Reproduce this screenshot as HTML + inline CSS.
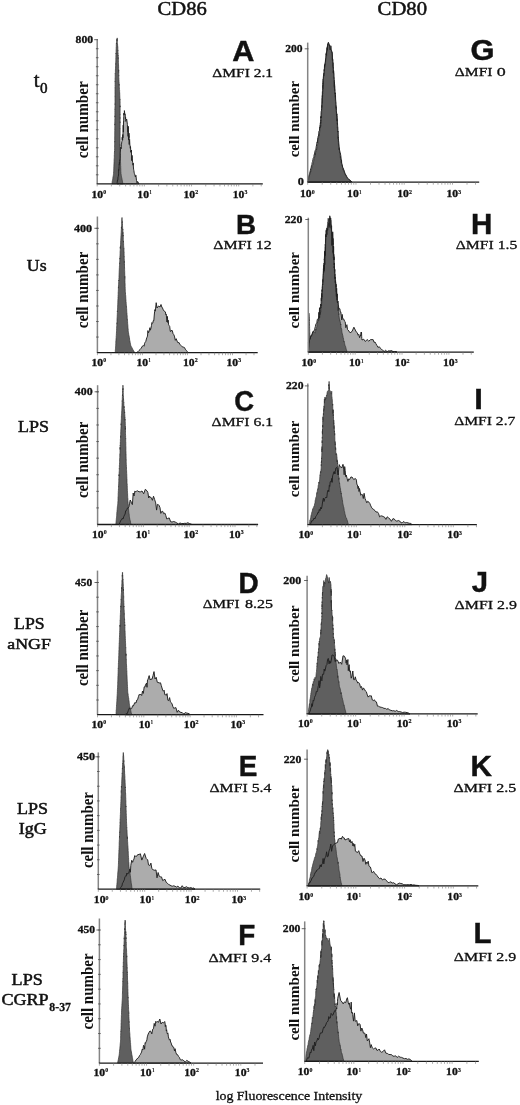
<!DOCTYPE html>
<html><head><meta charset="utf-8"><style>
html,body{margin:0;padding:0;background:#fff;}
svg{display:block;}
text{font-kerning:none;}
.r{stroke:#111;stroke-width:0.3px;}
svg{will-change:transform;}
</style></head><body>
<svg width="520" height="1105" viewBox="0 0 520 1105">
<rect width="520" height="1105" fill="#fff"/>
<text x="157.6" y="14.65" font-family='"Liberation Serif", serif' font-weight="normal" font-size="19.85" textLength="49.26" lengthAdjust="spacingAndGlyphs" fill="#111" style="stroke:#111;stroke-width:0.5px">CD86</text>
<text x="377.6" y="14.65" font-family='"Liberation Serif", serif' font-weight="normal" font-size="19.85" textLength="49.44" lengthAdjust="spacingAndGlyphs" fill="#111" style="stroke:#111;stroke-width:0.5px">CD80</text>
<text x="33.8" y="86.65" font-family='"Liberation Serif", serif' font-weight="normal" font-size="20.07" textLength="5.77" lengthAdjust="spacingAndGlyphs" fill="#111" style="stroke:#111;stroke-width:0.5px">t</text>
<text x="39.97" y="93.15" font-family='"Liberation Serif", serif' font-weight="normal" font-size="14.28" textLength="7.55" lengthAdjust="spacingAndGlyphs" fill="#111" style="stroke:#111;stroke-width:0.5px">0</text>
<text x="26.78" y="270.55" font-family='"Liberation Serif", serif' font-weight="normal" font-size="17.72" textLength="19.82" lengthAdjust="spacingAndGlyphs" fill="#111" style="stroke:#111;stroke-width:0.5px">Us</text>
<text x="18.03" y="431.65" font-family='"Liberation Serif", serif' font-weight="normal" font-size="16.01" textLength="30.93" lengthAdjust="spacingAndGlyphs" fill="#111" style="stroke:#111;stroke-width:0.5px">LPS</text>
<text x="14.14" y="628.55" font-family='"Liberation Serif", serif' font-weight="normal" font-size="16.61" textLength="30.51" lengthAdjust="spacingAndGlyphs" fill="#111" style="stroke:#111;stroke-width:0.5px">LPS</text>
<text x="7.32" y="648.75" font-family='"Liberation Serif", serif' font-weight="normal" font-size="15.1" textLength="43.47" lengthAdjust="spacingAndGlyphs" fill="#111" style="stroke:#111;stroke-width:0.5px">aNGF</text>
<text x="17.03" y="813.75" font-family='"Liberation Serif", serif' font-weight="normal" font-size="15.71" textLength="30.93" lengthAdjust="spacingAndGlyphs" fill="#111" style="stroke:#111;stroke-width:0.5px">LPS</text>
<text x="18.8" y="834.35" font-family='"Liberation Serif", serif' font-weight="normal" font-size="15.71" textLength="28.01" lengthAdjust="spacingAndGlyphs" fill="#111" style="stroke:#111;stroke-width:0.5px">IgG</text>
<text x="11.63" y="984.75" font-family='"Liberation Serif", serif' font-weight="normal" font-size="16.61" textLength="31.14" lengthAdjust="spacingAndGlyphs" fill="#111" style="stroke:#111;stroke-width:0.5px">LPS</text>
<text x="1.41" y="1004.55" font-family='"Liberation Serif", serif' font-weight="normal" font-size="16.01" textLength="47.16" lengthAdjust="spacingAndGlyphs" fill="#111" style="stroke:#111;stroke-width:0.5px">CGRP</text>
<text x="49.36" y="1011.35" font-family='"Liberation Serif", serif' font-weight="bold" font-size="12.78" textLength="21.58" lengthAdjust="spacingAndGlyphs" fill="#111" style="stroke:#111;stroke-width:0.3px">8-37</text>
<text x="215.67" y="1099.55" font-family='"Liberation Serif", serif' font-weight="normal" font-size="12.39" textLength="146.53" lengthAdjust="spacingAndGlyphs" fill="#111" style="stroke:#111;stroke-width:0.3px">log Fluorescence Intensity</text>
<defs><polygon id="l3" points="117.0,183.8 117.2,182.3 117.5,180.0 117.8,180.2 118.0,177.0 118.2,176.7 118.5,175.0 118.6,173.9 118.7,169.5 118.8,170.4 118.9,169.3 119.1,166.6 119.2,164.4 119.3,164.9 119.4,162.3 119.5,163.8 119.6,161.2 119.7,159.9 119.8,160.3 119.9,159.3 120.1,158.2 120.2,153.8 120.3,152.2 120.4,151.1 120.5,148.9 120.8,147.1 121.1,148.9 121.5,144.2 121.8,141.7 122.1,140.7 122.2,137.2 122.4,139.9 122.5,137.2 122.6,140.2 122.8,134.5 122.9,137.9 123.0,134.1 123.2,125.2 123.3,126.9 123.4,132.1 123.5,121.5 123.6,121.4 123.7,121.9 123.7,118.0 123.8,116.3 123.9,113.1 124.0,115.0 124.1,114.3 124.3,114.1 124.4,110.6 124.8,114.3 125.2,114.0 125.4,118.9 125.6,117.4 125.8,121.4 126.0,120.5 126.7,119.1 127.4,124.4 127.6,131.6 127.8,130.7 127.9,131.7 128.1,136.4 128.3,126.3 128.5,140.1 128.7,135.6 128.9,137.7 129.0,133.2 129.2,144.5 129.4,140.7 129.6,139.4 129.9,145.5 130.1,145.5 130.3,148.3 130.5,146.6 130.8,152.3 131.0,151.3 131.2,151.8 131.4,150.0 131.7,160.6 131.9,157.0 132.1,155.4 132.3,158.1 132.6,162.4 132.8,162.4 133.0,165.2 133.2,163.1 133.4,167.0 133.6,169.2 133.9,170.7 134.1,172.1 134.3,173.3 134.9,174.9 135.4,177.0 135.9,175.3 136.5,180.5 137.1,182.9 137.6,181.5 139.0,183.8"/><polygon id="d3" points="111.9,183.8 112.1,182.7 112.2,181.7 112.4,180.7 112.6,179.9 112.8,178.5 112.9,177.4 113.1,176.5 113.3,175.5 113.4,174.7 113.6,173.3 113.6,171.9 113.7,171.2 113.7,170.4 113.8,169.0 113.8,168.1 113.8,167.2 113.9,166.2 113.9,165.1 114.0,164.0 114.0,162.8 114.1,161.8 114.1,160.9 114.1,159.7 114.2,159.1 114.2,158.7 114.3,157.7 114.3,155.6 114.3,155.7 114.4,154.3 114.4,153.0 114.5,151.5 114.5,151.9 114.6,150.5 114.6,148.9 114.6,148.3 114.6,147.3 114.6,145.9 114.6,144.5 114.6,143.5 114.7,141.4 114.7,141.0 114.7,141.6 114.7,140.6 114.7,139.0 114.7,138.0 114.7,136.2 114.7,135.4 114.7,134.3 114.7,133.8 114.7,132.5 114.7,131.5 114.8,130.9 114.8,129.4 114.8,129.6 114.8,127.1 114.8,126.3 114.8,123.9 114.8,124.7 114.8,124.7 114.8,123.1 114.8,121.8 114.8,121.2 114.8,120.5 114.9,118.9 114.9,118.6 114.9,115.9 114.9,116.7 114.9,114.2 114.9,112.9 114.9,112.3 114.9,110.6 114.9,110.3 114.9,109.0 114.9,109.2 114.9,108.4 115.0,106.9 115.0,105.4 115.0,103.8 115.0,104.4 115.0,103.0 115.0,101.5 115.0,101.1 115.0,98.9 115.0,98.9 115.0,96.6 115.0,96.8 115.0,96.0 115.0,95.0 115.0,94.8 115.0,94.5 115.0,91.9 115.0,91.0 115.1,87.8 115.1,88.1 115.1,86.7 115.1,86.3 115.1,85.5 115.1,85.6 115.1,84.4 115.1,81.2 115.1,81.7 115.1,80.7 115.1,79.3 115.1,77.7 115.2,77.5 115.2,76.5 115.2,73.6 115.3,74.0 115.3,73.7 115.4,72.7 115.4,71.9 115.4,70.0 115.5,68.8 115.5,68.8 115.5,67.5 115.6,67.7 115.6,65.6 115.7,63.7 115.7,64.2 115.7,62.4 115.8,62.0 115.8,60.3 115.8,59.7 115.9,58.0 115.9,58.1 115.9,55.2 116.0,54.0 116.0,53.1 116.0,54.0 116.1,53.9 116.1,51.7 116.1,50.0 116.2,49.1 116.2,48.2 116.2,47.0 116.3,46.4 116.3,45.0 116.4,43.2 116.5,44.0 116.7,41.1 116.8,39.8 116.9,39.1 117.0,40.9 117.2,37.9 117.3,42.4 117.5,43.6 117.6,45.0 117.7,47.2 117.7,46.8 117.8,47.9 117.8,48.0 117.9,50.6 117.9,50.1 118.0,53.4 118.0,53.1 118.1,55.8 118.1,55.2 118.2,55.5 118.2,58.6 118.3,57.6 118.3,58.9 118.4,60.3 118.4,62.7 118.5,63.2 118.5,63.8 118.5,63.9 118.5,64.1 118.6,66.9 118.6,68.2 118.6,68.6 118.6,71.7 118.7,69.9 118.7,71.4 118.7,72.6 118.7,72.2 118.8,74.6 118.8,75.9 118.8,75.5 118.8,77.7 118.9,78.3 118.9,79.3 119.0,80.6 119.0,81.3 119.1,82.2 119.1,83.1 119.2,85.3 119.2,84.3 119.3,86.7 119.3,87.7 119.4,87.7 119.4,89.8 119.5,90.0 119.6,90.5 119.6,91.7 119.7,93.8 119.7,93.7 119.8,95.6 119.8,97.0 119.9,98.1 119.9,98.2 120.0,100.0 120.0,99.5 120.1,101.5 120.1,101.9 120.1,103.1 120.1,103.7 120.1,104.9 120.1,107.1 120.1,105.8 120.1,109.6 120.1,109.5 120.1,111.8 120.1,111.8 120.1,112.9 120.1,114.5 120.1,114.2 120.1,115.5 120.1,116.6 120.1,118.3 120.1,117.7 120.1,119.8 120.1,120.2 120.1,122.6 120.1,121.8 120.1,123.9 120.1,124.1 120.1,125.9 120.1,126.7 120.1,127.4 120.1,128.7 120.1,128.5 120.1,130.8 120.1,131.9 120.1,132.1 120.1,133.7 120.1,135.3 120.1,135.9 120.1,136.4 120.1,137.8 120.1,138.2 120.1,140.4 120.1,140.7 120.1,142.2 120.1,143.0 120.1,144.1 120.1,145.3 120.1,144.7 120.1,146.8 120.1,147.5 120.1,148.9 120.1,149.7 120.2,150.0 120.2,152.2 120.2,153.5 120.3,153.7 120.3,155.4 120.3,155.4 120.4,157.4 120.4,158.1 120.4,158.8 120.5,160.5 120.5,161.2 120.5,162.0 120.6,163.6 120.6,164.2 120.6,165.6 120.7,166.2 120.7,166.7 120.7,167.8 120.8,169.3 120.8,170.3 120.8,171.5 120.9,172.1 120.9,173.3 121.1,174.2 121.3,175.7 121.5,176.6 121.7,177.7 121.9,178.5 122.1,179.6 122.3,180.6 122.5,181.6 122.7,182.7 122.9,183.8"/></defs>
<use href="#l3" fill="#acacac"/>
<use href="#d3" fill="#5f5f5f" stroke="#333" stroke-width="0.7"/>
<use href="#l3" fill="none" stroke="#202020" stroke-width="0.95"/>
<line x1="97.2" y1="39.3" x2="97.2" y2="183.8" stroke="#858585" stroke-width="1.5"/>
<line x1="94.2" y1="39.7" x2="98" y2="39.7" stroke="#555" stroke-width="0.9"/>
<line x1="96.7" y1="183.8" x2="262.8" y2="183.8" stroke="#1a1a1a" stroke-width="1.3"/>
<line x1="97.2" y1="183.8" x2="97.2" y2="186.4" stroke="#777" stroke-width="0.6"/>
<line x1="111.4" y1="183.8" x2="111.4" y2="186.4" stroke="#777" stroke-width="0.6"/>
<line x1="119.7" y1="183.8" x2="119.7" y2="186.4" stroke="#777" stroke-width="0.6"/>
<line x1="125.6" y1="183.8" x2="125.6" y2="186.4" stroke="#777" stroke-width="0.6"/>
<line x1="130.17" y1="183.8" x2="130.17" y2="186.4" stroke="#777" stroke-width="0.6"/>
<line x1="133.9" y1="183.8" x2="133.9" y2="186.4" stroke="#777" stroke-width="0.6"/>
<line x1="137.06" y1="183.8" x2="137.06" y2="186.4" stroke="#777" stroke-width="0.6"/>
<line x1="139.8" y1="183.8" x2="139.8" y2="186.4" stroke="#777" stroke-width="0.6"/>
<line x1="142.21" y1="183.8" x2="142.21" y2="186.4" stroke="#777" stroke-width="0.6"/>
<line x1="144.37" y1="183.8" x2="144.37" y2="186.4" stroke="#777" stroke-width="0.6"/>
<line x1="158.57" y1="183.8" x2="158.57" y2="186.4" stroke="#777" stroke-width="0.6"/>
<line x1="166.87" y1="183.8" x2="166.87" y2="186.4" stroke="#777" stroke-width="0.6"/>
<line x1="172.76" y1="183.8" x2="172.76" y2="186.4" stroke="#777" stroke-width="0.6"/>
<line x1="177.33" y1="183.8" x2="177.33" y2="186.4" stroke="#777" stroke-width="0.6"/>
<line x1="181.07" y1="183.8" x2="181.07" y2="186.4" stroke="#777" stroke-width="0.6"/>
<line x1="184.23" y1="183.8" x2="184.23" y2="186.4" stroke="#777" stroke-width="0.6"/>
<line x1="186.96" y1="183.8" x2="186.96" y2="186.4" stroke="#777" stroke-width="0.6"/>
<line x1="189.38" y1="183.8" x2="189.38" y2="186.4" stroke="#777" stroke-width="0.6"/>
<line x1="191.53" y1="183.8" x2="191.53" y2="186.4" stroke="#777" stroke-width="0.6"/>
<line x1="205.73" y1="183.8" x2="205.73" y2="186.4" stroke="#777" stroke-width="0.6"/>
<line x1="214.04" y1="183.8" x2="214.04" y2="186.4" stroke="#777" stroke-width="0.6"/>
<line x1="219.93" y1="183.8" x2="219.93" y2="186.4" stroke="#777" stroke-width="0.6"/>
<line x1="224.5" y1="183.8" x2="224.5" y2="186.4" stroke="#777" stroke-width="0.6"/>
<line x1="228.24" y1="183.8" x2="228.24" y2="186.4" stroke="#777" stroke-width="0.6"/>
<line x1="231.39" y1="183.8" x2="231.39" y2="186.4" stroke="#777" stroke-width="0.6"/>
<line x1="234.13" y1="183.8" x2="234.13" y2="186.4" stroke="#777" stroke-width="0.6"/>
<line x1="236.54" y1="183.8" x2="236.54" y2="186.4" stroke="#777" stroke-width="0.6"/>
<line x1="238.7" y1="183.8" x2="238.7" y2="186.4" stroke="#777" stroke-width="0.6"/>
<line x1="252.9" y1="183.8" x2="252.9" y2="186.4" stroke="#777" stroke-width="0.6"/>
<line x1="261.2" y1="183.8" x2="261.2" y2="186.4" stroke="#777" stroke-width="0.6"/>
<line x1="95.9" y1="174.79" x2="98.5" y2="174.79" stroke="#555" stroke-width="0.9"/>
<line x1="95.9" y1="165.79" x2="98.5" y2="165.79" stroke="#555" stroke-width="0.9"/>
<line x1="95.9" y1="156.78" x2="98.5" y2="156.78" stroke="#555" stroke-width="0.9"/>
<line x1="95.9" y1="147.78" x2="98.5" y2="147.78" stroke="#555" stroke-width="0.9"/>
<line x1="95.9" y1="138.77" x2="98.5" y2="138.77" stroke="#555" stroke-width="0.9"/>
<line x1="95.9" y1="129.76" x2="98.5" y2="129.76" stroke="#555" stroke-width="0.9"/>
<line x1="95.9" y1="120.76" x2="98.5" y2="120.76" stroke="#555" stroke-width="0.9"/>
<line x1="95.9" y1="111.75" x2="98.5" y2="111.75" stroke="#555" stroke-width="0.9"/>
<line x1="95.9" y1="102.74" x2="98.5" y2="102.74" stroke="#555" stroke-width="0.9"/>
<line x1="95.9" y1="93.74" x2="98.5" y2="93.74" stroke="#555" stroke-width="0.9"/>
<line x1="95.9" y1="84.73" x2="98.5" y2="84.73" stroke="#555" stroke-width="0.9"/>
<line x1="95.9" y1="75.73" x2="98.5" y2="75.73" stroke="#555" stroke-width="0.9"/>
<line x1="95.9" y1="66.72" x2="98.5" y2="66.72" stroke="#555" stroke-width="0.9"/>
<line x1="95.9" y1="57.71" x2="98.5" y2="57.71" stroke="#555" stroke-width="0.9"/>
<line x1="95.9" y1="48.71" x2="98.5" y2="48.71" stroke="#555" stroke-width="0.9"/>
<text x="91.44" y="197.72" font-family='"Liberation Serif", serif' font-weight="bold" font-size="11.2" textLength="11.62" lengthAdjust="spacingAndGlyphs" fill="#111" style="stroke:#111;stroke-width:0.35px">10</text>
<text x="103.18" y="194.3" font-family='"Liberation Serif", serif' font-weight="bold" font-size="6.47" textLength="2.95" lengthAdjust="spacingAndGlyphs" fill="#111" style="stroke:#111;stroke-width:0.2px">0</text>
<text x="137.34" y="197.72" font-family='"Liberation Serif", serif' font-weight="bold" font-size="11.2" textLength="11.62" lengthAdjust="spacingAndGlyphs" fill="#111" style="stroke:#111;stroke-width:0.35px">10</text>
<text x="149.45" y="194.3" font-family='"Liberation Serif", serif' font-weight="bold" font-size="6.51" textLength="2.17" lengthAdjust="spacingAndGlyphs" fill="#111" style="stroke:#111;stroke-width:0.2px">1</text>
<text x="183.44" y="197.72" font-family='"Liberation Serif", serif' font-weight="bold" font-size="11.2" textLength="11.62" lengthAdjust="spacingAndGlyphs" fill="#111" style="stroke:#111;stroke-width:0.35px">10</text>
<text x="195.15" y="194.3" font-family='"Liberation Serif", serif' font-weight="bold" font-size="6.49" textLength="3.01" lengthAdjust="spacingAndGlyphs" fill="#111" style="stroke:#111;stroke-width:0.2px">2</text>
<text x="232.74" y="197.72" font-family='"Liberation Serif", serif' font-weight="bold" font-size="11.2" textLength="11.62" lengthAdjust="spacingAndGlyphs" fill="#111" style="stroke:#111;stroke-width:0.35px">10</text>
<text x="244.48" y="194.3" font-family='"Liberation Serif", serif' font-weight="bold" font-size="6.49" textLength="2.92" lengthAdjust="spacingAndGlyphs" fill="#111" style="stroke:#111;stroke-width:0.2px">3</text>
<text x="75.56" y="43.15" font-family='"Liberation Serif", serif' font-weight="bold" font-size="10.38" textLength="17.53" lengthAdjust="spacingAndGlyphs" fill="#111" style="stroke:#111;stroke-width:0.3px">800</text>
<text x="232.26" y="61.27" font-family='"Liberation Sans", sans-serif' font-weight="bold" font-size="29.87" textLength="22.12" lengthAdjust="spacingAndGlyphs" fill="#111" style="stroke:#111;stroke-width:0.45px">A</text>
<text x="212.36" y="77.25" font-family='"Liberation Serif", serif' font-weight="normal" font-size="11.93" textLength="60.72" lengthAdjust="spacingAndGlyphs" fill="#111" style="stroke:#111;stroke-width:0.3px">ΔMFI 2.1</text>
<text transform="translate(87.6 158.22) rotate(-90)" x="0" y="0" font-family='"Liberation Serif", serif' font-weight="bold" font-size="16.14" textLength="76.94" lengthAdjust="spacingAndGlyphs" fill="#111">cell number</text>
<defs><polygon id="l10" points="136.7,352.6 137.8,351.8 139.0,350.5 140.1,349.5 141.2,348.2 142.4,346.1 143.5,345.6 144.1,346.2 144.6,343.3 145.2,342.2 145.8,341.4 146.4,339.0 146.9,337.5 147.5,336.1 147.9,330.6 148.4,332.9 148.8,332.1 149.3,330.8 149.9,327.7 150.4,330.2 151.0,328.0 151.5,325.4 151.9,322.6 152.4,323.4 152.8,322.9 153.3,320.5 153.8,320.8 154.2,316.0 154.6,311.6 154.9,309.6 155.3,311.2 156.2,302.7 157.0,308.0 158.5,306.0 160.0,307.0 161.0,304.5 161.8,307.0 162.5,308.0 163.3,309.9 164.2,311.1 165.0,311.9 165.4,311.9 165.8,314.6 166.2,314.0 166.6,318.0 167.0,322.0 167.4,316.4 167.8,322.5 168.2,320.2 168.6,324.8 169.0,325.4 169.7,326.4 170.3,331.4 171.0,331.3 171.7,330.0 172.4,331.0 173.1,333.8 173.7,334.5 174.4,336.1 175.3,340.3 176.2,338.7 177.1,341.1 178.0,342.9 178.9,342.4 179.8,344.2 181.0,345.5 182.2,346.8 183.3,347.1 184.5,347.6 185.3,349.2 186.2,350.3 187.1,351.3 187.9,352.6"/><polygon id="d10" points="115.2,352.6 115.3,351.5 115.3,350.6 115.4,349.5 115.5,348.6 115.5,347.6 115.6,346.4 115.7,345.5 115.7,344.4 115.8,343.5 115.8,342.2 115.9,340.8 116.0,340.1 116.0,339.1 116.1,338.3 116.2,337.4 116.2,336.4 116.3,335.5 116.4,333.9 116.4,333.2 116.5,332.0 116.5,331.2 116.6,330.3 116.6,328.6 116.7,327.0 116.7,327.0 116.8,325.8 116.8,325.4 116.9,322.9 116.9,323.5 117.0,321.6 117.0,321.0 117.0,320.1 117.1,318.6 117.1,318.7 117.2,316.5 117.2,316.2 117.3,314.7 117.3,313.6 117.4,312.5 117.4,311.1 117.4,311.8 117.5,309.6 117.5,308.7 117.6,307.7 117.6,306.3 117.7,306.0 117.7,304.5 117.8,304.2 117.8,302.5 117.8,302.0 117.9,301.0 117.9,299.7 118.0,298.5 118.0,296.9 118.1,296.7 118.1,295.1 118.2,294.8 118.2,291.8 118.3,291.4 118.3,291.4 118.3,290.8 118.4,289.3 118.4,286.9 118.5,287.7 118.5,285.1 118.6,284.3 118.6,284.0 118.7,283.0 118.7,281.4 118.8,280.1 118.8,280.9 118.9,279.7 118.9,278.4 119.0,277.7 119.0,275.9 119.1,275.0 119.1,274.0 119.2,272.1 119.2,271.9 119.2,271.0 119.3,270.0 119.3,268.9 119.4,267.6 119.4,266.8 119.5,265.5 119.5,264.5 119.6,263.3 119.6,263.8 119.7,261.6 119.7,260.9 119.8,260.3 119.8,258.1 119.9,258.8 119.9,256.5 120.0,256.0 120.0,255.9 120.1,253.7 120.1,252.1 120.2,250.7 120.2,250.7 120.3,249.7 120.3,247.0 120.4,248.5 120.4,246.1 120.5,246.6 120.5,244.5 120.6,244.1 120.6,242.2 120.7,240.6 120.8,240.1 120.8,238.8 120.9,237.9 120.9,236.9 121.0,235.7 121.0,235.1 121.1,234.2 121.1,233.4 121.2,232.4 121.2,232.4 121.3,230.0 121.4,228.5 121.4,227.0 121.5,228.6 121.5,227.1 121.6,225.2 121.7,224.1 121.7,222.2 121.8,221.5 121.8,219.5 121.9,218.3 121.9,218.3 122.0,217.5 122.1,218.9 122.1,219.3 122.2,222.6 122.3,221.5 122.3,221.6 122.4,223.7 122.5,223.8 122.5,225.8 122.6,227.5 122.7,229.2 122.7,229.0 122.8,230.0 122.9,229.5 122.9,233.7 123.0,232.4 123.0,234.6 123.1,236.3 123.2,234.7 123.2,236.2 123.3,239.5 123.3,241.0 123.4,241.7 123.5,241.0 123.5,242.0 123.6,243.4 123.6,245.2 123.7,246.3 123.8,247.4 123.8,248.1 123.9,249.1 123.9,248.6 124.0,250.7 124.0,252.0 124.1,252.0 124.1,253.7 124.1,256.3 124.2,256.0 124.2,258.3 124.2,259.0 124.3,259.0 124.3,259.6 124.3,262.5 124.4,261.4 124.4,264.3 124.4,264.3 124.5,264.1 124.5,267.3 124.5,267.1 124.6,268.0 124.6,269.3 124.6,270.2 124.7,271.4 124.7,271.7 124.7,273.6 124.7,273.5 124.8,275.8 124.8,277.7 124.8,276.4 124.9,279.2 124.9,278.7 124.9,279.5 125.0,281.8 125.0,281.8 125.0,282.6 125.1,283.9 125.1,284.0 125.1,286.6 125.2,287.2 125.2,288.6 125.2,289.0 125.3,290.9 125.3,291.4 125.4,292.8 125.5,292.8 125.5,294.6 125.6,295.0 125.7,295.8 125.8,297.9 125.8,299.2 125.9,299.3 126.0,300.3 126.0,301.4 126.1,302.0 126.2,303.5 126.3,304.5 126.4,305.7 126.4,306.9 126.5,306.6 126.6,308.5 126.7,309.1 126.7,310.0 126.8,312.2 126.9,313.0 127.0,313.5 127.0,314.8 127.1,315.3 127.2,316.1 127.2,317.8 127.3,319.8 127.4,319.4 127.5,321.1 127.6,321.6 127.6,323.1 127.7,323.9 127.8,324.9 127.9,325.9 127.9,327.0 128.0,327.9 128.1,328.8 128.2,329.2 128.2,330.6 128.3,332.0 128.5,332.5 128.7,334.2 128.9,335.2 129.1,336.1 129.3,337.3 129.5,337.9 129.6,340.0 129.8,340.6 130.0,341.3 130.2,342.7 130.4,343.3 130.6,344.6 130.8,345.6 131.3,346.6 131.8,347.4 132.3,348.3 132.7,349.2 133.2,350.1 133.7,351.1 134.2,352.0 135.0,352.6"/></defs>
<use href="#l10" fill="#acacac"/>
<use href="#d10" fill="#5f5f5f" stroke="#333" stroke-width="0.7"/>
<use href="#l10" fill="none" stroke="#202020" stroke-width="0.95"/>
<line x1="97.4" y1="216.5" x2="97.4" y2="352.6" stroke="#858585" stroke-width="1.5"/>
<line x1="94.4" y1="228.3" x2="98.2" y2="228.3" stroke="#555" stroke-width="0.9"/>
<line x1="96.9" y1="352.6" x2="257.7" y2="352.6" stroke="#1a1a1a" stroke-width="1.3"/>
<line x1="97.4" y1="352.6" x2="97.4" y2="355.2" stroke="#777" stroke-width="0.6"/>
<line x1="110.96" y1="352.6" x2="110.96" y2="355.2" stroke="#777" stroke-width="0.6"/>
<line x1="118.89" y1="352.6" x2="118.89" y2="355.2" stroke="#777" stroke-width="0.6"/>
<line x1="124.51" y1="352.6" x2="124.51" y2="355.2" stroke="#777" stroke-width="0.6"/>
<line x1="128.88" y1="352.6" x2="128.88" y2="355.2" stroke="#777" stroke-width="0.6"/>
<line x1="132.44" y1="352.6" x2="132.44" y2="355.2" stroke="#777" stroke-width="0.6"/>
<line x1="135.46" y1="352.6" x2="135.46" y2="355.2" stroke="#777" stroke-width="0.6"/>
<line x1="138.07" y1="352.6" x2="138.07" y2="355.2" stroke="#777" stroke-width="0.6"/>
<line x1="140.37" y1="352.6" x2="140.37" y2="355.2" stroke="#777" stroke-width="0.6"/>
<line x1="142.43" y1="352.6" x2="142.43" y2="355.2" stroke="#777" stroke-width="0.6"/>
<line x1="155.99" y1="352.6" x2="155.99" y2="355.2" stroke="#777" stroke-width="0.6"/>
<line x1="163.92" y1="352.6" x2="163.92" y2="355.2" stroke="#777" stroke-width="0.6"/>
<line x1="169.55" y1="352.6" x2="169.55" y2="355.2" stroke="#777" stroke-width="0.6"/>
<line x1="173.91" y1="352.6" x2="173.91" y2="355.2" stroke="#777" stroke-width="0.6"/>
<line x1="177.48" y1="352.6" x2="177.48" y2="355.2" stroke="#777" stroke-width="0.6"/>
<line x1="180.49" y1="352.6" x2="180.49" y2="355.2" stroke="#777" stroke-width="0.6"/>
<line x1="183.1" y1="352.6" x2="183.1" y2="355.2" stroke="#777" stroke-width="0.6"/>
<line x1="185.41" y1="352.6" x2="185.41" y2="355.2" stroke="#777" stroke-width="0.6"/>
<line x1="187.47" y1="352.6" x2="187.47" y2="355.2" stroke="#777" stroke-width="0.6"/>
<line x1="201.02" y1="352.6" x2="201.02" y2="355.2" stroke="#777" stroke-width="0.6"/>
<line x1="208.95" y1="352.6" x2="208.95" y2="355.2" stroke="#777" stroke-width="0.6"/>
<line x1="214.58" y1="352.6" x2="214.58" y2="355.2" stroke="#777" stroke-width="0.6"/>
<line x1="218.94" y1="352.6" x2="218.94" y2="355.2" stroke="#777" stroke-width="0.6"/>
<line x1="222.51" y1="352.6" x2="222.51" y2="355.2" stroke="#777" stroke-width="0.6"/>
<line x1="225.52" y1="352.6" x2="225.52" y2="355.2" stroke="#777" stroke-width="0.6"/>
<line x1="228.14" y1="352.6" x2="228.14" y2="355.2" stroke="#777" stroke-width="0.6"/>
<line x1="230.44" y1="352.6" x2="230.44" y2="355.2" stroke="#777" stroke-width="0.6"/>
<line x1="232.5" y1="352.6" x2="232.5" y2="355.2" stroke="#777" stroke-width="0.6"/>
<line x1="246.06" y1="352.6" x2="246.06" y2="355.2" stroke="#777" stroke-width="0.6"/>
<line x1="253.99" y1="352.6" x2="253.99" y2="355.2" stroke="#777" stroke-width="0.6"/>
<line x1="96.1" y1="337.06" x2="98.7" y2="337.06" stroke="#555" stroke-width="0.9"/>
<line x1="96.1" y1="321.52" x2="98.7" y2="321.52" stroke="#555" stroke-width="0.9"/>
<line x1="96.1" y1="305.99" x2="98.7" y2="305.99" stroke="#555" stroke-width="0.9"/>
<line x1="96.1" y1="290.45" x2="98.7" y2="290.45" stroke="#555" stroke-width="0.9"/>
<line x1="96.1" y1="274.91" x2="98.7" y2="274.91" stroke="#555" stroke-width="0.9"/>
<line x1="96.1" y1="259.37" x2="98.7" y2="259.37" stroke="#555" stroke-width="0.9"/>
<line x1="96.1" y1="243.84" x2="98.7" y2="243.84" stroke="#555" stroke-width="0.9"/>
<line x1="96.1" y1="228.3" x2="98.7" y2="228.3" stroke="#555" stroke-width="0.9"/>
<text x="91.54" y="365.82" font-family='"Liberation Serif", serif' font-weight="bold" font-size="11.2" textLength="11.62" lengthAdjust="spacingAndGlyphs" fill="#111" style="stroke:#111;stroke-width:0.35px">10</text>
<text x="103.28" y="362.4" font-family='"Liberation Serif", serif' font-weight="bold" font-size="6.47" textLength="2.95" lengthAdjust="spacingAndGlyphs" fill="#111" style="stroke:#111;stroke-width:0.2px">0</text>
<text x="136.44" y="365.82" font-family='"Liberation Serif", serif' font-weight="bold" font-size="11.2" textLength="11.62" lengthAdjust="spacingAndGlyphs" fill="#111" style="stroke:#111;stroke-width:0.35px">10</text>
<text x="148.55" y="362.4" font-family='"Liberation Serif", serif' font-weight="bold" font-size="6.51" textLength="2.17" lengthAdjust="spacingAndGlyphs" fill="#111" style="stroke:#111;stroke-width:0.2px">1</text>
<text x="182.94" y="365.82" font-family='"Liberation Serif", serif' font-weight="bold" font-size="11.2" textLength="11.62" lengthAdjust="spacingAndGlyphs" fill="#111" style="stroke:#111;stroke-width:0.35px">10</text>
<text x="194.65" y="362.4" font-family='"Liberation Serif", serif' font-weight="bold" font-size="6.49" textLength="3.01" lengthAdjust="spacingAndGlyphs" fill="#111" style="stroke:#111;stroke-width:0.2px">2</text>
<text x="226.54" y="365.82" font-family='"Liberation Serif", serif' font-weight="bold" font-size="11.2" textLength="11.62" lengthAdjust="spacingAndGlyphs" fill="#111" style="stroke:#111;stroke-width:0.35px">10</text>
<text x="238.28" y="362.4" font-family='"Liberation Serif", serif' font-weight="bold" font-size="6.49" textLength="2.92" lengthAdjust="spacingAndGlyphs" fill="#111" style="stroke:#111;stroke-width:0.2px">3</text>
<text x="73.98" y="231.75" font-family='"Liberation Serif", serif' font-weight="bold" font-size="10.38" textLength="18.13" lengthAdjust="spacingAndGlyphs" fill="#111" style="stroke:#111;stroke-width:0.3px">400</text>
<text x="236.07" y="234.08" font-family='"Liberation Sans", sans-serif' font-weight="bold" font-size="27.98" textLength="20.07" lengthAdjust="spacingAndGlyphs" fill="#111" style="stroke:#111;stroke-width:0.45px">B</text>
<text x="213.34" y="249.05" font-family='"Liberation Serif", serif' font-weight="normal" font-size="12.23" textLength="58.49" lengthAdjust="spacingAndGlyphs" fill="#111" style="stroke:#111;stroke-width:0.3px">ΔMFI 12</text>
<text transform="translate(87.6 328.21) rotate(-90)" x="0" y="0" font-family='"Liberation Serif", serif' font-weight="bold" font-size="15.71" textLength="76.54" lengthAdjust="spacingAndGlyphs" fill="#111">cell number</text>
<defs><polygon id="l17" points="118.5,524.5 119.2,524.1 120.0,522.3 120.8,520.3 121.5,519.9 122.2,518.4 123.0,519.0 123.8,516.5 124.5,515.0 125.1,514.1 125.7,510.8 126.3,510.6 126.9,509.4 127.5,508.0 128.2,507.9 128.9,506.8 129.5,503.9 130.2,500.0 130.9,501.2 131.7,503.8 132.4,504.6 133.2,493.0 134.0,496.0 134.9,491.0 135.8,491.8 136.6,491.2 137.5,490.8 139.0,491.8 140.5,491.8 142.0,491.0 143.7,493.8 145.3,489.3 147.0,490.8 147.9,492.6 148.7,498.0 149.6,496.1 150.4,497.5 151.3,497.7 152.4,500.3 153.5,496.2 154.6,499.4 155.7,502.9 156.6,510.1 157.4,504.4 158.3,504.6 159.1,505.5 160.0,507.7 160.8,513.4 161.7,511.5 162.7,511.3 163.7,513.7 164.8,513.0 165.8,515.6 166.8,519.0 167.8,518.5 169.2,517.9 170.7,521.8 172.1,522.0 173.7,521.5 175.3,522.1 176.8,522.9 178.4,524.0 180.0,523.0 181.6,523.5 183.1,523.6 184.7,523.3 186.3,523.4 187.8,522.7 189.4,523.5 192.0,524.5"/><polygon id="d17" points="115.8,524.5 115.9,523.5 116.0,522.4 116.1,521.5 116.2,520.4 116.3,519.5 116.4,518.3 116.5,517.6 116.6,516.4 116.7,515.6 116.8,513.9 116.8,512.5 116.9,512.1 117.0,511.4 117.1,510.1 117.2,509.4 117.3,507.9 117.4,506.6 117.5,506.1 117.6,505.4 117.7,504.4 117.8,503.6 117.9,502.0 117.9,501.6 118.0,500.5 118.0,498.9 118.1,497.1 118.1,497.2 118.2,495.8 118.2,494.7 118.2,493.4 118.3,493.2 118.3,491.5 118.4,490.8 118.4,490.1 118.5,488.4 118.5,487.8 118.5,486.4 118.6,486.8 118.6,485.1 118.7,484.1 118.7,483.9 118.8,481.3 118.8,480.7 118.8,479.1 118.9,479.1 118.9,477.8 119.0,476.2 119.0,474.5 119.0,476.1 119.1,474.2 119.1,473.3 119.2,471.6 119.2,471.5 119.3,470.5 119.3,468.1 119.3,468.4 119.4,467.5 119.4,465.1 119.5,464.7 119.5,464.1 119.6,462.4 119.6,461.4 119.6,460.0 119.7,459.0 119.7,457.7 119.8,457.4 119.8,455.8 119.8,454.8 119.9,455.1 119.9,454.1 120.0,452.7 120.0,450.4 120.0,450.3 120.1,447.2 120.1,449.4 120.2,446.8 120.2,445.2 120.2,445.7 120.3,445.2 120.3,442.8 120.4,443.1 120.4,441.5 120.4,439.3 120.5,439.2 120.5,438.3 120.6,436.4 120.6,437.3 120.6,434.7 120.7,434.4 120.7,432.1 120.8,431.3 120.8,430.9 120.8,429.7 120.9,428.7 120.9,427.8 121.0,427.1 121.0,426.5 121.0,423.8 121.1,424.7 121.1,422.6 121.2,421.8 121.2,420.7 121.3,419.7 121.3,419.5 121.4,418.4 121.4,415.7 121.5,415.6 121.5,414.8 121.6,413.5 121.6,412.7 121.7,411.2 121.8,410.8 121.8,409.5 121.9,408.2 121.9,407.8 122.0,405.7 122.0,404.5 122.1,403.8 122.1,403.9 122.2,400.7 122.2,401.4 122.3,400.0 122.3,398.5 122.4,396.4 122.4,395.9 122.5,394.6 122.5,395.9 122.6,393.9 122.6,391.6 122.6,392.1 122.7,391.1 122.7,389.0 122.8,389.5 122.8,388.3 122.9,387.5 122.9,385.2 123.0,386.1 123.0,387.5 123.0,389.5 123.1,388.3 123.2,389.9 123.2,390.7 123.2,392.3 123.3,394.5 123.3,395.1 123.4,395.4 123.5,397.4 123.5,399.4 123.5,398.9 123.6,400.0 123.7,401.7 123.8,402.4 123.8,402.1 123.9,405.8 124.0,406.7 124.1,407.7 124.2,406.4 124.2,408.5 124.3,408.8 124.4,410.2 124.5,410.2 124.6,412.9 124.6,412.0 124.7,414.2 124.8,414.5 124.9,417.4 125.0,417.2 125.0,420.1 125.1,419.3 125.2,420.7 125.2,420.6 125.2,421.6 125.3,423.2 125.3,425.4 125.3,427.0 125.4,426.5 125.4,429.6 125.4,427.6 125.4,429.6 125.5,430.5 125.5,432.6 125.5,433.2 125.5,433.6 125.5,435.1 125.6,435.5 125.6,437.3 125.6,438.5 125.7,438.3 125.7,438.1 125.7,440.2 125.7,441.5 125.8,442.1 125.8,443.7 125.8,445.2 125.8,445.9 125.9,446.9 125.9,448.0 125.9,450.0 125.9,450.8 126.0,452.3 126.0,452.3 126.0,453.8 126.0,454.7 126.0,454.5 126.1,456.2 126.1,456.4 126.1,459.3 126.2,459.8 126.2,459.6 126.2,461.4 126.2,462.2 126.3,463.6 126.3,464.6 126.4,465.1 126.4,466.7 126.5,467.7 126.5,467.5 126.5,469.5 126.6,470.6 126.6,470.9 126.7,473.4 126.7,473.6 126.8,474.9 126.8,475.3 126.8,476.2 126.9,478.1 126.9,478.8 127.0,479.3 127.0,480.3 127.0,482.3 127.1,483.6 127.1,483.6 127.2,484.0 127.2,485.7 127.3,487.0 127.3,487.7 127.3,488.9 127.4,490.2 127.4,490.5 127.5,491.8 127.5,492.7 127.6,493.6 127.6,495.0 127.7,496.3 127.7,497.4 127.8,497.8 127.9,499.1 127.9,500.2 128.0,501.2 128.1,502.0 128.1,502.9 128.2,503.8 128.3,505.0 128.3,506.2 128.4,506.6 128.5,508.5 128.5,509.1 128.6,510.0 128.7,511.0 128.8,512.2 129.0,513.4 129.1,513.9 129.2,515.1 129.3,516.3 129.5,517.3 129.6,518.0 129.8,519.2 130.1,520.3 130.3,521.0 130.5,522.4 130.8,523.5 131.0,524.5"/></defs>
<use href="#l17" fill="#acacac"/>
<use href="#d17" fill="#5f5f5f" stroke="#333" stroke-width="0.7"/>
<use href="#l17" fill="none" stroke="#202020" stroke-width="0.95"/>
<line x1="97.6" y1="385.2" x2="97.6" y2="524.5" stroke="#858585" stroke-width="1.5"/>
<line x1="94.6" y1="391.8" x2="98.4" y2="391.8" stroke="#555" stroke-width="0.9"/>
<line x1="97.1" y1="524.5" x2="258.1" y2="524.5" stroke="#1a1a1a" stroke-width="1.3"/>
<line x1="97.6" y1="524.5" x2="97.6" y2="527.1" stroke="#777" stroke-width="0.6"/>
<line x1="111.39" y1="524.5" x2="111.39" y2="527.1" stroke="#777" stroke-width="0.6"/>
<line x1="119.45" y1="524.5" x2="119.45" y2="527.1" stroke="#777" stroke-width="0.6"/>
<line x1="125.17" y1="524.5" x2="125.17" y2="527.1" stroke="#777" stroke-width="0.6"/>
<line x1="129.61" y1="524.5" x2="129.61" y2="527.1" stroke="#777" stroke-width="0.6"/>
<line x1="133.24" y1="524.5" x2="133.24" y2="527.1" stroke="#777" stroke-width="0.6"/>
<line x1="136.31" y1="524.5" x2="136.31" y2="527.1" stroke="#777" stroke-width="0.6"/>
<line x1="138.96" y1="524.5" x2="138.96" y2="527.1" stroke="#777" stroke-width="0.6"/>
<line x1="141.3" y1="524.5" x2="141.3" y2="527.1" stroke="#777" stroke-width="0.6"/>
<line x1="143.4" y1="524.5" x2="143.4" y2="527.1" stroke="#777" stroke-width="0.6"/>
<line x1="157.19" y1="524.5" x2="157.19" y2="527.1" stroke="#777" stroke-width="0.6"/>
<line x1="165.25" y1="524.5" x2="165.25" y2="527.1" stroke="#777" stroke-width="0.6"/>
<line x1="170.97" y1="524.5" x2="170.97" y2="527.1" stroke="#777" stroke-width="0.6"/>
<line x1="175.41" y1="524.5" x2="175.41" y2="527.1" stroke="#777" stroke-width="0.6"/>
<line x1="179.04" y1="524.5" x2="179.04" y2="527.1" stroke="#777" stroke-width="0.6"/>
<line x1="182.11" y1="524.5" x2="182.11" y2="527.1" stroke="#777" stroke-width="0.6"/>
<line x1="184.76" y1="524.5" x2="184.76" y2="527.1" stroke="#777" stroke-width="0.6"/>
<line x1="187.1" y1="524.5" x2="187.1" y2="527.1" stroke="#777" stroke-width="0.6"/>
<line x1="189.2" y1="524.5" x2="189.2" y2="527.1" stroke="#777" stroke-width="0.6"/>
<line x1="202.99" y1="524.5" x2="202.99" y2="527.1" stroke="#777" stroke-width="0.6"/>
<line x1="211.05" y1="524.5" x2="211.05" y2="527.1" stroke="#777" stroke-width="0.6"/>
<line x1="216.77" y1="524.5" x2="216.77" y2="527.1" stroke="#777" stroke-width="0.6"/>
<line x1="221.21" y1="524.5" x2="221.21" y2="527.1" stroke="#777" stroke-width="0.6"/>
<line x1="224.84" y1="524.5" x2="224.84" y2="527.1" stroke="#777" stroke-width="0.6"/>
<line x1="227.91" y1="524.5" x2="227.91" y2="527.1" stroke="#777" stroke-width="0.6"/>
<line x1="230.56" y1="524.5" x2="230.56" y2="527.1" stroke="#777" stroke-width="0.6"/>
<line x1="232.9" y1="524.5" x2="232.9" y2="527.1" stroke="#777" stroke-width="0.6"/>
<line x1="235" y1="524.5" x2="235" y2="527.1" stroke="#777" stroke-width="0.6"/>
<line x1="248.79" y1="524.5" x2="248.79" y2="527.1" stroke="#777" stroke-width="0.6"/>
<line x1="256.85" y1="524.5" x2="256.85" y2="527.1" stroke="#777" stroke-width="0.6"/>
<line x1="96.3" y1="507.91" x2="98.9" y2="507.91" stroke="#555" stroke-width="0.9"/>
<line x1="96.3" y1="491.33" x2="98.9" y2="491.33" stroke="#555" stroke-width="0.9"/>
<line x1="96.3" y1="474.74" x2="98.9" y2="474.74" stroke="#555" stroke-width="0.9"/>
<line x1="96.3" y1="458.15" x2="98.9" y2="458.15" stroke="#555" stroke-width="0.9"/>
<line x1="96.3" y1="441.56" x2="98.9" y2="441.56" stroke="#555" stroke-width="0.9"/>
<line x1="96.3" y1="424.98" x2="98.9" y2="424.98" stroke="#555" stroke-width="0.9"/>
<line x1="96.3" y1="408.39" x2="98.9" y2="408.39" stroke="#555" stroke-width="0.9"/>
<line x1="96.3" y1="391.8" x2="98.9" y2="391.8" stroke="#555" stroke-width="0.9"/>
<text x="91.94" y="537.83" font-family='"Liberation Serif", serif' font-weight="bold" font-size="11.2" textLength="11.62" lengthAdjust="spacingAndGlyphs" fill="#111" style="stroke:#111;stroke-width:0.35px">10</text>
<text x="103.68" y="534.4" font-family='"Liberation Serif", serif' font-weight="bold" font-size="6.47" textLength="2.95" lengthAdjust="spacingAndGlyphs" fill="#111" style="stroke:#111;stroke-width:0.2px">0</text>
<text x="135.74" y="537.83" font-family='"Liberation Serif", serif' font-weight="bold" font-size="11.2" textLength="11.62" lengthAdjust="spacingAndGlyphs" fill="#111" style="stroke:#111;stroke-width:0.35px">10</text>
<text x="147.85" y="534.4" font-family='"Liberation Serif", serif' font-weight="bold" font-size="6.51" textLength="2.17" lengthAdjust="spacingAndGlyphs" fill="#111" style="stroke:#111;stroke-width:0.2px">1</text>
<text x="183.44" y="537.83" font-family='"Liberation Serif", serif' font-weight="bold" font-size="11.2" textLength="11.62" lengthAdjust="spacingAndGlyphs" fill="#111" style="stroke:#111;stroke-width:0.35px">10</text>
<text x="195.15" y="534.4" font-family='"Liberation Serif", serif' font-weight="bold" font-size="6.49" textLength="3.01" lengthAdjust="spacingAndGlyphs" fill="#111" style="stroke:#111;stroke-width:0.2px">2</text>
<text x="229.04" y="537.83" font-family='"Liberation Serif", serif' font-weight="bold" font-size="11.2" textLength="11.62" lengthAdjust="spacingAndGlyphs" fill="#111" style="stroke:#111;stroke-width:0.35px">10</text>
<text x="240.78" y="534.4" font-family='"Liberation Serif", serif' font-weight="bold" font-size="6.49" textLength="2.92" lengthAdjust="spacingAndGlyphs" fill="#111" style="stroke:#111;stroke-width:0.2px">3</text>
<text x="74.79" y="395.25" font-family='"Liberation Serif", serif' font-weight="bold" font-size="10.38" textLength="17.81" lengthAdjust="spacingAndGlyphs" fill="#111" style="stroke:#111;stroke-width:0.3px">400</text>
<text x="234.2" y="410.98" font-family='"Liberation Sans", sans-serif' font-weight="bold" font-size="29.73" textLength="19.83" lengthAdjust="spacingAndGlyphs" fill="#111" style="stroke:#111;stroke-width:0.45px">C</text>
<text x="211.55" y="426.05" font-family='"Liberation Serif", serif' font-weight="normal" font-size="12.38" textLength="61.54" lengthAdjust="spacingAndGlyphs" fill="#111" style="stroke:#111;stroke-width:0.3px">ΔMFI 6.1</text>
<text transform="translate(87.6 498.11) rotate(-90)" x="0" y="0" font-family='"Liberation Serif", serif' font-weight="bold" font-size="16.14" textLength="76.54" lengthAdjust="spacingAndGlyphs" fill="#111">cell number</text>
<defs><polygon id="l24" points="125.0,714.7 126.1,713.8 127.2,713.7 128.3,710.6 129.5,707.9 130.6,709.1 131.7,708.5 132.6,705.7 133.4,706.0 134.7,702.7 136.0,703.0 136.8,700.0 137.6,699.7 138.4,696.7 139.2,694.4 140.0,695.0 140.8,694.2 141.7,695.5 142.5,691.0 143.3,693.4 144.2,686.9 145.0,687.0 145.5,684.6 146.0,684.4 146.5,683.0 147.0,687.3 147.5,680.0 148.1,679.2 148.6,677.2 149.2,675.6 150.1,679.9 151.0,679.0 152.0,679.3 153.0,675.6 154.0,671.6 155.0,679.0 156.2,677.3 157.3,682.3 159.8,683.0 160.5,682.8 161.3,685.6 162.0,688.0 162.7,690.2 163.4,691.2 164.1,690.2 164.8,694.7 165.5,694.6 166.2,695.4 167.0,693.6 167.9,700.3 168.7,700.6 169.6,697.6 170.4,701.8 171.2,702.5 172.1,704.0 172.9,706.6 173.8,708.5 174.6,708.0 175.9,707.6 177.2,712.3 178.4,710.2 179.7,712.0 181.0,712.4 182.4,712.7 183.8,714.1 185.2,712.6 186.6,713.0 188.0,713.4 189.4,713.8 190.0,714.7"/><polygon id="d24" points="116.0,714.7 116.1,713.6 116.1,712.7 116.2,711.5 116.2,710.3 116.3,709.9 116.4,708.4 116.4,707.5 116.5,706.5 116.5,705.1 116.6,704.6 116.7,703.2 116.7,702.4 116.8,701.7 116.9,700.4 116.9,699.2 117.0,698.3 117.0,697.3 117.1,696.2 117.2,695.2 117.2,694.6 117.3,693.4 117.3,692.0 117.4,691.3 117.4,689.6 117.5,688.8 117.5,688.9 117.6,687.3 117.6,686.1 117.6,685.3 117.7,684.7 117.7,683.5 117.7,682.2 117.8,681.9 117.8,680.5 117.9,679.2 117.9,679.1 117.9,677.4 118.0,675.7 118.0,675.4 118.0,675.2 118.1,673.3 118.1,672.8 118.2,671.1 118.2,670.3 118.2,670.4 118.3,668.1 118.3,668.5 118.4,665.9 118.4,664.6 118.4,663.0 118.5,662.7 118.5,662.2 118.5,660.5 118.6,660.5 118.6,659.9 118.7,658.9 118.7,657.1 118.7,657.0 118.8,655.6 118.8,654.3 118.8,653.9 118.9,652.5 118.9,651.0 119.0,649.7 119.0,649.2 119.0,648.1 119.1,646.5 119.1,646.4 119.2,644.8 119.2,643.6 119.2,643.3 119.3,643.5 119.3,641.8 119.4,639.5 119.4,637.9 119.4,637.7 119.5,637.4 119.5,635.9 119.6,634.8 119.6,632.9 119.6,632.8 119.7,632.5 119.7,630.6 119.8,630.3 119.8,629.0 119.8,628.1 119.9,626.5 119.9,625.1 120.0,626.7 120.0,624.9 120.1,623.0 120.1,621.7 120.1,620.6 120.2,620.8 120.2,620.4 120.3,617.9 120.3,616.9 120.3,616.1 120.4,614.5 120.4,613.7 120.5,612.3 120.5,611.6 120.5,611.8 120.6,609.7 120.6,609.1 120.7,607.2 120.7,607.1 120.8,605.9 120.8,607.2 120.9,603.9 120.9,603.1 121.0,603.0 121.0,602.1 121.0,599.1 121.1,599.5 121.2,598.0 121.2,596.1 121.2,595.6 121.3,595.2 121.3,594.9 121.4,593.1 121.5,592.2 121.5,590.7 121.5,591.2 121.6,588.7 121.6,587.3 121.7,589.2 121.8,586.3 121.8,585.0 121.9,583.3 121.9,582.3 122.0,581.0 122.0,580.6 122.1,581.2 122.2,581.1 122.2,577.1 122.3,574.9 122.3,576.4 122.4,575.5 122.4,572.5 122.5,572.7 122.6,572.4 122.6,574.4 122.7,575.9 122.8,575.7 122.8,577.0 122.9,578.9 123.0,580.0 123.0,579.5 123.1,581.4 123.2,582.4 123.2,583.8 123.3,585.0 123.3,586.4 123.4,586.9 123.4,588.9 123.4,590.7 123.5,589.1 123.5,591.3 123.5,591.9 123.6,593.8 123.6,594.5 123.6,594.7 123.7,597.1 123.7,596.8 123.7,599.4 123.7,600.0 123.8,601.4 123.8,601.3 123.8,602.4 123.9,602.9 123.9,603.8 123.9,607.1 124.0,606.2 124.0,607.1 124.0,608.1 124.1,608.7 124.1,609.7 124.2,610.1 124.2,611.0 124.3,614.3 124.3,613.7 124.3,614.9 124.4,616.9 124.4,617.0 124.5,617.5 124.5,619.6 124.6,619.2 124.6,622.5 124.6,622.0 124.7,623.2 124.7,624.5 124.8,625.8 124.8,624.6 124.9,627.9 124.9,627.8 124.9,629.0 125.0,631.1 125.0,631.0 125.1,632.1 125.1,633.0 125.2,633.8 125.2,634.7 125.2,635.5 125.3,636.8 125.3,638.6 125.4,638.7 125.4,640.7 125.5,641.6 125.5,641.5 125.5,642.8 125.6,643.7 125.6,646.2 125.7,647.0 125.7,648.0 125.8,647.7 125.8,649.2 125.8,650.3 125.9,651.8 125.9,652.6 126.0,653.6 126.0,655.7 126.1,653.9 126.1,655.2 126.2,657.3 126.2,658.2 126.3,659.9 126.3,659.7 126.3,662.0 126.4,663.8 126.4,663.9 126.5,665.0 126.5,665.1 126.6,666.0 126.6,667.6 126.7,668.1 126.7,669.9 126.8,670.6 126.8,672.0 126.8,671.9 126.9,673.2 126.9,675.0 127.0,675.0 127.0,675.9 127.1,678.1 127.1,678.3 127.2,679.3 127.2,679.6 127.2,680.9 127.3,681.7 127.3,683.1 127.4,684.8 127.4,685.0 127.5,686.2 127.5,686.7 127.6,688.4 127.6,690.0 127.7,691.0 127.7,691.3 127.8,692.8 128.0,693.6 128.1,694.0 128.2,695.7 128.4,696.4 128.5,697.5 128.7,697.8 128.8,699.9 128.9,700.3 129.1,701.3 129.2,702.5 129.3,703.5 129.5,704.7 129.6,705.4 129.8,706.4 130.1,707.3 130.3,708.5 130.5,709.4 130.8,710.7 131.0,711.9 131.2,712.7 131.5,713.6 131.7,714.7"/></defs>
<use href="#l24" fill="#acacac"/>
<use href="#d24" fill="#5f5f5f" stroke="#333" stroke-width="0.7"/>
<use href="#l24" fill="none" stroke="#202020" stroke-width="0.95"/>
<line x1="97.5" y1="570.6" x2="97.5" y2="714.7" stroke="#858585" stroke-width="1.5"/>
<line x1="94.5" y1="582.5" x2="98.3" y2="582.5" stroke="#555" stroke-width="0.9"/>
<line x1="97" y1="714.7" x2="263.5" y2="714.7" stroke="#1a1a1a" stroke-width="1.3"/>
<line x1="97.5" y1="714.7" x2="97.5" y2="717.3" stroke="#777" stroke-width="0.6"/>
<line x1="111.44" y1="714.7" x2="111.44" y2="717.3" stroke="#777" stroke-width="0.6"/>
<line x1="119.59" y1="714.7" x2="119.59" y2="717.3" stroke="#777" stroke-width="0.6"/>
<line x1="125.38" y1="714.7" x2="125.38" y2="717.3" stroke="#777" stroke-width="0.6"/>
<line x1="129.86" y1="714.7" x2="129.86" y2="717.3" stroke="#777" stroke-width="0.6"/>
<line x1="133.53" y1="714.7" x2="133.53" y2="717.3" stroke="#777" stroke-width="0.6"/>
<line x1="136.63" y1="714.7" x2="136.63" y2="717.3" stroke="#777" stroke-width="0.6"/>
<line x1="139.31" y1="714.7" x2="139.31" y2="717.3" stroke="#777" stroke-width="0.6"/>
<line x1="141.68" y1="714.7" x2="141.68" y2="717.3" stroke="#777" stroke-width="0.6"/>
<line x1="143.8" y1="714.7" x2="143.8" y2="717.3" stroke="#777" stroke-width="0.6"/>
<line x1="157.74" y1="714.7" x2="157.74" y2="717.3" stroke="#777" stroke-width="0.6"/>
<line x1="165.89" y1="714.7" x2="165.89" y2="717.3" stroke="#777" stroke-width="0.6"/>
<line x1="171.68" y1="714.7" x2="171.68" y2="717.3" stroke="#777" stroke-width="0.6"/>
<line x1="176.16" y1="714.7" x2="176.16" y2="717.3" stroke="#777" stroke-width="0.6"/>
<line x1="179.83" y1="714.7" x2="179.83" y2="717.3" stroke="#777" stroke-width="0.6"/>
<line x1="182.93" y1="714.7" x2="182.93" y2="717.3" stroke="#777" stroke-width="0.6"/>
<line x1="185.61" y1="714.7" x2="185.61" y2="717.3" stroke="#777" stroke-width="0.6"/>
<line x1="187.98" y1="714.7" x2="187.98" y2="717.3" stroke="#777" stroke-width="0.6"/>
<line x1="190.1" y1="714.7" x2="190.1" y2="717.3" stroke="#777" stroke-width="0.6"/>
<line x1="204.04" y1="714.7" x2="204.04" y2="717.3" stroke="#777" stroke-width="0.6"/>
<line x1="212.19" y1="714.7" x2="212.19" y2="717.3" stroke="#777" stroke-width="0.6"/>
<line x1="217.98" y1="714.7" x2="217.98" y2="717.3" stroke="#777" stroke-width="0.6"/>
<line x1="222.46" y1="714.7" x2="222.46" y2="717.3" stroke="#777" stroke-width="0.6"/>
<line x1="226.13" y1="714.7" x2="226.13" y2="717.3" stroke="#777" stroke-width="0.6"/>
<line x1="229.23" y1="714.7" x2="229.23" y2="717.3" stroke="#777" stroke-width="0.6"/>
<line x1="231.91" y1="714.7" x2="231.91" y2="717.3" stroke="#777" stroke-width="0.6"/>
<line x1="234.28" y1="714.7" x2="234.28" y2="717.3" stroke="#777" stroke-width="0.6"/>
<line x1="236.4" y1="714.7" x2="236.4" y2="717.3" stroke="#777" stroke-width="0.6"/>
<line x1="250.34" y1="714.7" x2="250.34" y2="717.3" stroke="#777" stroke-width="0.6"/>
<line x1="258.49" y1="714.7" x2="258.49" y2="717.3" stroke="#777" stroke-width="0.6"/>
<line x1="96.2" y1="700.01" x2="98.8" y2="700.01" stroke="#555" stroke-width="0.9"/>
<line x1="96.2" y1="685.32" x2="98.8" y2="685.32" stroke="#555" stroke-width="0.9"/>
<line x1="96.2" y1="670.63" x2="98.8" y2="670.63" stroke="#555" stroke-width="0.9"/>
<line x1="96.2" y1="655.94" x2="98.8" y2="655.94" stroke="#555" stroke-width="0.9"/>
<line x1="96.2" y1="641.26" x2="98.8" y2="641.26" stroke="#555" stroke-width="0.9"/>
<line x1="96.2" y1="626.57" x2="98.8" y2="626.57" stroke="#555" stroke-width="0.9"/>
<line x1="96.2" y1="611.88" x2="98.8" y2="611.88" stroke="#555" stroke-width="0.9"/>
<line x1="96.2" y1="597.19" x2="98.8" y2="597.19" stroke="#555" stroke-width="0.9"/>
<line x1="96.2" y1="582.5" x2="98.8" y2="582.5" stroke="#555" stroke-width="0.9"/>
<text x="91.54" y="727.83" font-family='"Liberation Serif", serif' font-weight="bold" font-size="11.2" textLength="11.62" lengthAdjust="spacingAndGlyphs" fill="#111" style="stroke:#111;stroke-width:0.35px">10</text>
<text x="103.28" y="724.4" font-family='"Liberation Serif", serif' font-weight="bold" font-size="6.47" textLength="2.95" lengthAdjust="spacingAndGlyphs" fill="#111" style="stroke:#111;stroke-width:0.2px">0</text>
<text x="138.74" y="727.83" font-family='"Liberation Serif", serif' font-weight="bold" font-size="11.2" textLength="11.62" lengthAdjust="spacingAndGlyphs" fill="#111" style="stroke:#111;stroke-width:0.35px">10</text>
<text x="150.85" y="724.4" font-family='"Liberation Serif", serif' font-weight="bold" font-size="6.51" textLength="2.17" lengthAdjust="spacingAndGlyphs" fill="#111" style="stroke:#111;stroke-width:0.2px">1</text>
<text x="183.84" y="727.83" font-family='"Liberation Serif", serif' font-weight="bold" font-size="11.2" textLength="11.62" lengthAdjust="spacingAndGlyphs" fill="#111" style="stroke:#111;stroke-width:0.35px">10</text>
<text x="195.55" y="724.4" font-family='"Liberation Serif", serif' font-weight="bold" font-size="6.49" textLength="3.01" lengthAdjust="spacingAndGlyphs" fill="#111" style="stroke:#111;stroke-width:0.2px">2</text>
<text x="230.44" y="727.83" font-family='"Liberation Serif", serif' font-weight="bold" font-size="11.2" textLength="11.62" lengthAdjust="spacingAndGlyphs" fill="#111" style="stroke:#111;stroke-width:0.35px">10</text>
<text x="242.18" y="724.4" font-family='"Liberation Serif", serif' font-weight="bold" font-size="6.49" textLength="2.92" lengthAdjust="spacingAndGlyphs" fill="#111" style="stroke:#111;stroke-width:0.2px">3</text>
<text x="74.99" y="585.95" font-family='"Liberation Serif", serif' font-weight="bold" font-size="10.38" textLength="17.19" lengthAdjust="spacingAndGlyphs" fill="#111" style="stroke:#111;stroke-width:0.3px">450</text>
<text x="238.55" y="592.67" font-family='"Liberation Sans", sans-serif' font-weight="bold" font-size="29" textLength="20.19" lengthAdjust="spacingAndGlyphs" fill="#111" style="stroke:#111;stroke-width:0.45px">D</text>
<text x="202.67" y="608.45" font-family='"Liberation Serif", serif' font-weight="normal" font-size="12.27" textLength="36.92" lengthAdjust="spacingAndGlyphs" fill="#111" style="stroke:#111;stroke-width:0.3px">ΔMFI</text>
<text x="244.94" y="608.45" font-family='"Liberation Serif", serif' font-weight="normal" font-size="12.18" textLength="28.14" lengthAdjust="spacingAndGlyphs" fill="#111" style="stroke:#111;stroke-width:0.3px">8.25</text>
<text transform="translate(87.6 686.11) rotate(-90)" x="0" y="0" font-family='"Liberation Serif", serif' font-weight="bold" font-size="16.43" textLength="76.54" lengthAdjust="spacingAndGlyphs" fill="#111">cell number</text>
<defs><polygon id="l31" points="120.0,889.2 120.6,887.7 121.2,886.6 121.9,886.2 122.5,883.1 123.1,882.4 123.7,881.0 124.3,879.9 125.0,876.6 125.6,876.1 126.2,876.2 126.9,873.0 127.5,874.2 128.2,873.2 128.8,873.0 129.5,870.0 129.9,868.9 130.4,872.3 130.8,865.4 131.7,860.3 132.6,862.3 133.3,860.4 134.0,859.0 134.7,855.6 135.4,856.2 136.6,856.3 137.7,854.6 139.0,854.5 140.4,853.8 141.8,860.1 143.1,856.9 144.6,853.5 146.2,858.5 147.0,859.5 147.7,859.8 148.5,864.9 149.2,865.3 150.0,865.4 150.9,863.1 151.9,868.7 152.9,869.6 153.8,870.0 154.9,870.3 156.0,869.9 157.0,877.8 158.1,872.5 159.2,876.2 160.4,876.8 161.5,876.9 162.7,880.6 163.9,879.8 165.0,879.3 166.2,882.3 167.4,883.2 168.6,884.5 169.9,885.0 171.1,885.8 172.3,886.2 173.7,885.8 175.1,886.3 176.5,887.0 177.9,886.2 179.4,887.6 180.8,888.0 182.2,885.7 183.6,887.7 185.0,887.5 186.5,886.7 187.9,887.7 189.4,887.9 190.9,887.6 192.3,888.3 193.8,888.0 195.0,889.2"/><polygon id="d31" points="116.5,889.2 116.6,888.2 116.7,887.0 116.7,886.1 116.8,885.1 116.9,884.4 117.0,882.9 117.1,882.3 117.2,880.9 117.2,880.0 117.3,879.0 117.4,878.2 117.5,877.4 117.6,876.1 117.6,875.4 117.7,874.3 117.8,873.0 117.9,872.0 118.0,870.9 118.1,869.8 118.1,868.7 118.2,868.5 118.3,867.0 118.3,866.3 118.4,865.4 118.4,864.5 118.5,862.9 118.5,862.0 118.5,860.5 118.6,860.2 118.6,859.1 118.7,857.8 118.7,856.8 118.7,855.7 118.8,854.1 118.8,853.3 118.9,853.4 118.9,851.2 118.9,850.1 119.0,849.8 119.0,848.6 119.1,847.4 119.1,846.1 119.1,845.8 119.2,845.4 119.2,842.5 119.3,842.1 119.3,840.6 119.3,840.0 119.4,839.6 119.4,839.4 119.5,836.2 119.5,837.3 119.5,835.3 119.6,834.2 119.6,834.3 119.7,831.9 119.7,832.5 119.7,830.2 119.8,829.3 119.8,829.0 119.9,827.1 119.9,826.4 119.9,825.2 120.0,824.7 120.0,822.2 120.1,822.4 120.1,821.6 120.1,820.7 120.2,819.1 120.2,819.3 120.3,816.9 120.3,816.7 120.3,815.1 120.4,814.6 120.4,813.5 120.5,812.0 120.5,811.3 120.5,808.4 120.6,808.7 120.6,808.1 120.7,807.1 120.7,806.1 120.7,805.5 120.8,803.4 120.8,803.0 120.9,801.8 120.9,801.7 120.9,801.4 121.0,798.7 121.0,797.2 121.1,796.9 121.1,797.1 121.1,795.1 121.2,794.5 121.2,791.5 121.3,792.3 121.3,790.4 121.3,790.8 121.4,787.8 121.4,786.0 121.5,787.5 121.5,785.7 121.6,785.2 121.6,784.2 121.7,783.9 121.7,781.3 121.8,780.1 121.8,779.8 121.9,778.1 121.9,777.6 122.0,776.8 122.0,776.2 122.1,775.1 122.2,773.3 122.2,773.8 122.3,771.8 122.3,770.3 122.4,768.1 122.4,768.8 122.5,768.9 122.5,766.1 122.6,765.0 122.7,763.5 122.7,764.0 122.8,762.4 122.8,760.4 122.9,759.5 122.9,758.7 123.0,756.3 123.1,756.5 123.1,754.7 123.2,753.5 123.2,753.6 123.3,752.5 123.4,752.9 123.5,753.7 123.5,755.9 123.6,755.6 123.7,756.9 123.8,760.0 123.8,761.6 123.9,760.6 124.0,762.7 124.0,763.4 124.1,764.2 124.2,765.0 124.3,766.6 124.3,766.2 124.4,768.0 124.4,767.5 124.5,770.0 124.5,772.0 124.6,771.9 124.6,774.1 124.7,774.1 124.8,774.8 124.8,775.4 124.9,776.5 124.9,778.6 125.0,779.2 125.0,779.7 125.1,781.2 125.1,782.2 125.2,784.1 125.2,784.1 125.3,785.7 125.3,788.0 125.4,787.1 125.4,788.4 125.4,788.6 125.5,791.5 125.5,791.9 125.5,792.9 125.6,793.8 125.6,793.6 125.7,795.5 125.7,796.5 125.7,797.1 125.8,798.5 125.8,799.5 125.8,799.7 125.9,801.0 125.9,802.4 125.9,803.5 126.0,805.3 126.0,807.0 126.0,806.2 126.1,807.8 126.1,808.3 126.1,809.7 126.2,810.5 126.2,812.4 126.2,813.2 126.3,813.6 126.3,815.7 126.3,816.0 126.4,817.1 126.4,818.3 126.5,819.0 126.5,820.4 126.5,821.7 126.6,823.1 126.6,823.4 126.6,824.4 126.7,824.5 126.7,826.4 126.8,828.0 126.8,827.7 126.9,830.3 126.9,830.7 127.0,830.5 127.1,832.8 127.1,833.1 127.2,835.5 127.2,835.4 127.3,837.2 127.4,838.8 127.4,836.8 127.5,839.8 127.5,840.1 127.6,841.7 127.7,842.4 127.7,844.1 127.8,844.8 127.8,845.1 127.9,845.7 128.0,847.9 128.0,848.2 128.1,848.5 128.1,850.9 128.2,851.1 128.3,853.2 128.3,854.1 128.4,854.4 128.4,855.7 128.5,857.3 128.6,857.7 128.6,859.2 128.7,860.4 128.7,861.8 128.8,862.0 128.9,862.9 128.9,864.1 129.0,864.7 129.0,866.1 129.1,867.0 129.2,868.3 129.4,869.3 129.5,869.8 129.6,870.9 129.8,872.4 129.9,872.9 130.1,874.0 130.2,874.9 130.3,875.7 130.5,877.1 130.6,877.8 130.7,878.8 130.9,880.3 131.0,881.0 131.1,882.3 131.3,883.2 131.4,884.1 131.6,885.0 131.7,886.0 131.8,887.2 132.0,888.2 132.1,889.2"/></defs>
<use href="#l31" fill="#acacac"/>
<use href="#d31" fill="#5f5f5f" stroke="#333" stroke-width="0.7"/>
<use href="#l31" fill="none" stroke="#202020" stroke-width="0.95"/>
<line x1="98.3" y1="752.4" x2="98.3" y2="889.2" stroke="#858585" stroke-width="1.5"/>
<line x1="95.3" y1="756.8" x2="99.1" y2="756.8" stroke="#555" stroke-width="0.9"/>
<line x1="97.8" y1="889.2" x2="260.2" y2="889.2" stroke="#1a1a1a" stroke-width="1.3"/>
<line x1="98.3" y1="889.2" x2="98.3" y2="891.8" stroke="#777" stroke-width="0.6"/>
<line x1="112.27" y1="889.2" x2="112.27" y2="891.8" stroke="#777" stroke-width="0.6"/>
<line x1="120.44" y1="889.2" x2="120.44" y2="891.8" stroke="#777" stroke-width="0.6"/>
<line x1="126.24" y1="889.2" x2="126.24" y2="891.8" stroke="#777" stroke-width="0.6"/>
<line x1="130.73" y1="889.2" x2="130.73" y2="891.8" stroke="#777" stroke-width="0.6"/>
<line x1="134.41" y1="889.2" x2="134.41" y2="891.8" stroke="#777" stroke-width="0.6"/>
<line x1="137.51" y1="889.2" x2="137.51" y2="891.8" stroke="#777" stroke-width="0.6"/>
<line x1="140.2" y1="889.2" x2="140.2" y2="891.8" stroke="#777" stroke-width="0.6"/>
<line x1="142.58" y1="889.2" x2="142.58" y2="891.8" stroke="#777" stroke-width="0.6"/>
<line x1="144.7" y1="889.2" x2="144.7" y2="891.8" stroke="#777" stroke-width="0.6"/>
<line x1="158.67" y1="889.2" x2="158.67" y2="891.8" stroke="#777" stroke-width="0.6"/>
<line x1="166.84" y1="889.2" x2="166.84" y2="891.8" stroke="#777" stroke-width="0.6"/>
<line x1="172.64" y1="889.2" x2="172.64" y2="891.8" stroke="#777" stroke-width="0.6"/>
<line x1="177.13" y1="889.2" x2="177.13" y2="891.8" stroke="#777" stroke-width="0.6"/>
<line x1="180.81" y1="889.2" x2="180.81" y2="891.8" stroke="#777" stroke-width="0.6"/>
<line x1="183.91" y1="889.2" x2="183.91" y2="891.8" stroke="#777" stroke-width="0.6"/>
<line x1="186.6" y1="889.2" x2="186.6" y2="891.8" stroke="#777" stroke-width="0.6"/>
<line x1="188.98" y1="889.2" x2="188.98" y2="891.8" stroke="#777" stroke-width="0.6"/>
<line x1="191.1" y1="889.2" x2="191.1" y2="891.8" stroke="#777" stroke-width="0.6"/>
<line x1="205.07" y1="889.2" x2="205.07" y2="891.8" stroke="#777" stroke-width="0.6"/>
<line x1="213.24" y1="889.2" x2="213.24" y2="891.8" stroke="#777" stroke-width="0.6"/>
<line x1="219.04" y1="889.2" x2="219.04" y2="891.8" stroke="#777" stroke-width="0.6"/>
<line x1="223.53" y1="889.2" x2="223.53" y2="891.8" stroke="#777" stroke-width="0.6"/>
<line x1="227.21" y1="889.2" x2="227.21" y2="891.8" stroke="#777" stroke-width="0.6"/>
<line x1="230.31" y1="889.2" x2="230.31" y2="891.8" stroke="#777" stroke-width="0.6"/>
<line x1="233" y1="889.2" x2="233" y2="891.8" stroke="#777" stroke-width="0.6"/>
<line x1="235.38" y1="889.2" x2="235.38" y2="891.8" stroke="#777" stroke-width="0.6"/>
<line x1="237.5" y1="889.2" x2="237.5" y2="891.8" stroke="#777" stroke-width="0.6"/>
<line x1="251.47" y1="889.2" x2="251.47" y2="891.8" stroke="#777" stroke-width="0.6"/>
<line x1="259.64" y1="889.2" x2="259.64" y2="891.8" stroke="#777" stroke-width="0.6"/>
<line x1="97" y1="874.49" x2="99.6" y2="874.49" stroke="#555" stroke-width="0.9"/>
<line x1="97" y1="859.78" x2="99.6" y2="859.78" stroke="#555" stroke-width="0.9"/>
<line x1="97" y1="845.07" x2="99.6" y2="845.07" stroke="#555" stroke-width="0.9"/>
<line x1="97" y1="830.36" x2="99.6" y2="830.36" stroke="#555" stroke-width="0.9"/>
<line x1="97" y1="815.64" x2="99.6" y2="815.64" stroke="#555" stroke-width="0.9"/>
<line x1="97" y1="800.93" x2="99.6" y2="800.93" stroke="#555" stroke-width="0.9"/>
<line x1="97" y1="786.22" x2="99.6" y2="786.22" stroke="#555" stroke-width="0.9"/>
<line x1="97" y1="771.51" x2="99.6" y2="771.51" stroke="#555" stroke-width="0.9"/>
<line x1="97" y1="756.8" x2="99.6" y2="756.8" stroke="#555" stroke-width="0.9"/>
<text x="93.84" y="903.12" font-family='"Liberation Serif", serif' font-weight="bold" font-size="11.2" textLength="11.62" lengthAdjust="spacingAndGlyphs" fill="#111" style="stroke:#111;stroke-width:0.35px">10</text>
<text x="105.58" y="899.7" font-family='"Liberation Serif", serif' font-weight="bold" font-size="6.47" textLength="2.95" lengthAdjust="spacingAndGlyphs" fill="#111" style="stroke:#111;stroke-width:0.2px">0</text>
<text x="139.64" y="903.12" font-family='"Liberation Serif", serif' font-weight="bold" font-size="11.2" textLength="11.62" lengthAdjust="spacingAndGlyphs" fill="#111" style="stroke:#111;stroke-width:0.35px">10</text>
<text x="151.75" y="899.7" font-family='"Liberation Serif", serif' font-weight="bold" font-size="6.51" textLength="2.17" lengthAdjust="spacingAndGlyphs" fill="#111" style="stroke:#111;stroke-width:0.2px">1</text>
<text x="184.84" y="903.12" font-family='"Liberation Serif", serif' font-weight="bold" font-size="11.2" textLength="11.62" lengthAdjust="spacingAndGlyphs" fill="#111" style="stroke:#111;stroke-width:0.35px">10</text>
<text x="196.55" y="899.7" font-family='"Liberation Serif", serif' font-weight="bold" font-size="6.49" textLength="3.01" lengthAdjust="spacingAndGlyphs" fill="#111" style="stroke:#111;stroke-width:0.2px">2</text>
<text x="231.54" y="903.12" font-family='"Liberation Serif", serif' font-weight="bold" font-size="11.2" textLength="11.62" lengthAdjust="spacingAndGlyphs" fill="#111" style="stroke:#111;stroke-width:0.35px">10</text>
<text x="243.28" y="899.7" font-family='"Liberation Serif", serif' font-weight="bold" font-size="6.49" textLength="2.92" lengthAdjust="spacingAndGlyphs" fill="#111" style="stroke:#111;stroke-width:0.2px">3</text>
<text x="77.09" y="760.25" font-family='"Liberation Serif", serif' font-weight="bold" font-size="10.38" textLength="18.02" lengthAdjust="spacingAndGlyphs" fill="#111" style="stroke:#111;stroke-width:0.3px">450</text>
<text x="238.86" y="775.77" font-family='"Liberation Sans", sans-serif' font-weight="bold" font-size="30.31" textLength="18.61" lengthAdjust="spacingAndGlyphs" fill="#111" style="stroke:#111;stroke-width:0.45px">E</text>
<text x="209.45" y="791.75" font-family='"Liberation Serif", serif' font-weight="normal" font-size="12.57" textLength="61.95" lengthAdjust="spacingAndGlyphs" fill="#111" style="stroke:#111;stroke-width:0.3px">ΔMFI 5.4</text>
<text transform="translate(93.1 868.11) rotate(-90)" x="0" y="0" font-family='"Liberation Serif", serif' font-weight="bold" font-size="16.14" textLength="76.13" lengthAdjust="spacingAndGlyphs" fill="#111">cell number</text>
<defs><polygon id="l38" points="133.5,1063.1 134.4,1062.3 135.2,1061.4 136.1,1059.8 137.0,1059.0 137.9,1057.9 138.7,1057.4 139.6,1055.4 140.3,1054.7 140.9,1053.3 141.6,1052.1 142.2,1049.2 142.9,1050.0 143.5,1045.3 144.2,1046.2 144.6,1049.2 145.1,1042.8 145.5,1043.3 146.0,1041.6 146.4,1041.4 146.9,1039.8 147.3,1036.9 148.2,1034.0 149.1,1032.3 150.0,1030.9 150.9,1031.6 151.8,1033.9 152.7,1029.2 153.5,1028.7 154.2,1023.4 155.0,1026.2 155.8,1021.3 156.5,1022.3 157.3,1021.5 158.5,1022.3 159.8,1019.0 161.0,1024.0 162.2,1022.3 163.5,1023.0 164.7,1021.5 165.0,1022.8 165.3,1026.6 165.7,1025.0 166.0,1025.3 166.3,1030.9 166.7,1029.8 167.0,1032.5 167.3,1033.8 167.9,1032.9 168.4,1036.9 169.0,1038.9 169.5,1040.1 170.1,1039.4 170.6,1042.0 171.2,1043.1 171.9,1045.7 172.5,1045.8 173.2,1047.4 173.8,1047.4 174.5,1050.9 175.1,1048.7 175.8,1052.3 176.7,1054.5 177.6,1054.7 178.5,1056.4 179.4,1057.4 180.3,1059.7 181.2,1060.0 182.6,1059.7 184.0,1061.2 185.4,1061.7 186.8,1060.4 188.2,1061.3 189.6,1062.0 191.0,1063.1"/><polygon id="d38" points="117.6,1063.1 117.8,1062.1 118.0,1061.0 118.2,1060.1 118.4,1059.2 118.6,1057.9 118.8,1057.1 119.0,1055.9 119.2,1055.0 119.3,1053.7 119.4,1053.1 119.5,1051.5 119.6,1050.1 119.7,1050.0 119.8,1048.8 119.9,1048.0 120.0,1046.2 120.1,1045.7 120.2,1044.3 120.3,1043.2 120.4,1042.3 120.5,1041.3 120.5,1040.3 120.6,1039.5 120.6,1038.6 120.6,1037.2 120.7,1036.0 120.7,1035.3 120.7,1033.8 120.8,1032.3 120.8,1031.2 120.9,1031.6 120.9,1029.9 120.9,1029.3 121.0,1028.7 121.0,1027.9 121.0,1026.7 121.1,1025.4 121.1,1025.1 121.1,1023.0 121.2,1022.8 121.2,1021.2 121.2,1020.1 121.3,1019.4 121.3,1018.6 121.4,1017.1 121.4,1015.8 121.4,1015.5 121.5,1014.6 121.5,1012.3 121.5,1012.0 121.6,1010.9 121.6,1010.0 121.7,1008.4 121.7,1007.7 121.8,1006.9 121.9,1005.7 121.9,1005.2 122.0,1003.4 122.1,1002.2 122.2,1000.9 122.2,1000.6 122.3,999.2 122.3,998.9 122.4,997.9 122.4,996.2 122.4,995.4 122.4,994.3 122.5,992.3 122.5,992.5 122.5,990.8 122.6,990.0 122.6,990.0 122.6,987.9 122.6,987.9 122.7,985.9 122.7,985.7 122.7,984.8 122.8,982.7 122.8,981.6 122.8,982.1 122.8,980.7 122.9,978.8 122.9,978.2 122.9,978.5 123.0,977.3 123.0,976.0 123.0,974.0 123.0,972.3 123.1,972.7 123.1,970.9 123.1,969.9 123.2,969.5 123.2,967.7 123.2,966.6 123.2,967.0 123.3,965.3 123.3,965.0 123.3,962.6 123.4,962.9 123.4,961.3 123.4,960.5 123.4,960.0 123.5,957.1 123.5,957.1 123.5,956.1 123.6,956.8 123.6,953.1 123.7,953.5 123.7,952.3 123.7,951.7 123.8,949.2 123.8,948.7 123.9,948.6 123.9,948.3 124.0,945.1 124.0,946.1 124.0,943.5 124.1,942.0 124.1,941.3 124.2,940.3 124.2,938.9 124.2,937.8 124.3,939.2 124.3,936.4 124.4,935.7 124.4,935.0 124.4,934.8 124.5,934.4 124.5,931.7 124.6,931.1 124.6,930.5 124.7,928.3 124.7,929.9 124.8,926.9 124.8,925.8 124.9,923.8 124.9,924.4 125.0,922.5 125.0,923.3 125.1,921.7 125.1,920.0 125.2,920.6 125.2,921.8 125.3,921.4 125.3,925.0 125.4,925.8 125.4,925.8 125.5,927.3 125.5,928.5 125.6,930.4 125.6,931.2 125.7,933.3 125.7,931.4 125.8,932.0 125.8,933.4 125.9,935.0 125.9,933.9 126.0,938.2 126.0,938.9 126.1,937.5 126.1,939.6 126.1,941.3 126.2,943.0 126.2,942.7 126.3,943.9 126.3,945.5 126.3,946.5 126.4,947.5 126.4,947.8 126.5,948.4 126.5,949.0 126.6,951.4 126.6,951.3 126.6,952.6 126.7,953.3 126.7,957.3 126.8,955.8 126.8,957.1 126.8,958.0 126.9,958.4 126.9,959.5 126.9,961.1 127.0,963.0 127.0,964.6 127.0,964.9 127.1,964.8 127.1,966.4 127.1,968.1 127.2,967.7 127.2,969.5 127.2,970.3 127.3,970.4 127.3,973.0 127.3,972.4 127.4,975.0 127.4,974.7 127.4,976.6 127.5,976.4 127.5,977.9 127.5,979.1 127.6,980.5 127.6,982.2 127.6,981.9 127.7,983.4 127.7,983.1 127.7,985.0 127.8,985.7 127.8,986.9 127.8,988.4 127.9,989.0 127.9,990.0 127.9,991.3 128.0,992.9 128.0,994.2 128.0,994.8 128.1,995.7 128.1,996.6 128.1,998.0 128.2,997.4 128.2,999.2 128.2,999.6 128.3,1000.8 128.3,1002.2 128.4,1003.9 128.4,1004.6 128.5,1004.8 128.5,1006.5 128.5,1006.9 128.6,1009.4 128.6,1010.4 128.7,1011.1 128.7,1010.9 128.8,1013.4 128.8,1012.7 128.8,1015.1 128.9,1015.0 128.9,1016.6 129.0,1018.1 129.0,1018.4 129.1,1020.4 129.1,1021.0 129.2,1022.3 129.2,1021.7 129.2,1023.6 129.3,1025.1 129.3,1025.2 129.4,1026.8 129.4,1028.4 129.5,1028.0 129.5,1030.0 129.6,1031.4 129.7,1032.5 129.7,1033.5 129.8,1033.4 129.9,1034.6 129.9,1035.5 130.0,1037.8 130.1,1037.7 130.2,1038.8 130.2,1039.4 130.3,1041.0 130.4,1042.4 130.5,1043.2 130.6,1043.3 130.6,1044.7 130.7,1046.0 130.8,1047.1 130.8,1047.9 130.9,1049.0 131.0,1050.0 131.2,1050.9 131.4,1052.0 131.6,1053.0 131.7,1054.1 131.9,1054.9 132.1,1055.7 132.3,1057.2 132.5,1058.2 132.7,1059.0 132.8,1060.2 133.0,1061.0 133.2,1062.1 133.4,1063.1"/></defs>
<use href="#l38" fill="#acacac"/>
<use href="#d38" fill="#5f5f5f" stroke="#333" stroke-width="0.7"/>
<use href="#l38" fill="none" stroke="#202020" stroke-width="0.95"/>
<line x1="99.4" y1="918.5" x2="99.4" y2="1063.1" stroke="#858585" stroke-width="1.5"/>
<line x1="96.4" y1="930" x2="100.2" y2="930" stroke="#555" stroke-width="0.9"/>
<line x1="98.9" y1="1063.1" x2="263" y2="1063.1" stroke="#1a1a1a" stroke-width="1.3"/>
<line x1="99.4" y1="1063.1" x2="99.4" y2="1065.7" stroke="#777" stroke-width="0.6"/>
<line x1="113.59" y1="1063.1" x2="113.59" y2="1065.7" stroke="#777" stroke-width="0.6"/>
<line x1="121.89" y1="1063.1" x2="121.89" y2="1065.7" stroke="#777" stroke-width="0.6"/>
<line x1="127.78" y1="1063.1" x2="127.78" y2="1065.7" stroke="#777" stroke-width="0.6"/>
<line x1="132.34" y1="1063.1" x2="132.34" y2="1065.7" stroke="#777" stroke-width="0.6"/>
<line x1="136.08" y1="1063.1" x2="136.08" y2="1065.7" stroke="#777" stroke-width="0.6"/>
<line x1="139.23" y1="1063.1" x2="139.23" y2="1065.7" stroke="#777" stroke-width="0.6"/>
<line x1="141.97" y1="1063.1" x2="141.97" y2="1065.7" stroke="#777" stroke-width="0.6"/>
<line x1="144.38" y1="1063.1" x2="144.38" y2="1065.7" stroke="#777" stroke-width="0.6"/>
<line x1="146.53" y1="1063.1" x2="146.53" y2="1065.7" stroke="#777" stroke-width="0.6"/>
<line x1="160.72" y1="1063.1" x2="160.72" y2="1065.7" stroke="#777" stroke-width="0.6"/>
<line x1="169.02" y1="1063.1" x2="169.02" y2="1065.7" stroke="#777" stroke-width="0.6"/>
<line x1="174.91" y1="1063.1" x2="174.91" y2="1065.7" stroke="#777" stroke-width="0.6"/>
<line x1="179.48" y1="1063.1" x2="179.48" y2="1065.7" stroke="#777" stroke-width="0.6"/>
<line x1="183.21" y1="1063.1" x2="183.21" y2="1065.7" stroke="#777" stroke-width="0.6"/>
<line x1="186.37" y1="1063.1" x2="186.37" y2="1065.7" stroke="#777" stroke-width="0.6"/>
<line x1="189.1" y1="1063.1" x2="189.1" y2="1065.7" stroke="#777" stroke-width="0.6"/>
<line x1="191.51" y1="1063.1" x2="191.51" y2="1065.7" stroke="#777" stroke-width="0.6"/>
<line x1="193.67" y1="1063.1" x2="193.67" y2="1065.7" stroke="#777" stroke-width="0.6"/>
<line x1="207.86" y1="1063.1" x2="207.86" y2="1065.7" stroke="#777" stroke-width="0.6"/>
<line x1="216.15" y1="1063.1" x2="216.15" y2="1065.7" stroke="#777" stroke-width="0.6"/>
<line x1="222.04" y1="1063.1" x2="222.04" y2="1065.7" stroke="#777" stroke-width="0.6"/>
<line x1="226.61" y1="1063.1" x2="226.61" y2="1065.7" stroke="#777" stroke-width="0.6"/>
<line x1="230.34" y1="1063.1" x2="230.34" y2="1065.7" stroke="#777" stroke-width="0.6"/>
<line x1="233.5" y1="1063.1" x2="233.5" y2="1065.7" stroke="#777" stroke-width="0.6"/>
<line x1="236.23" y1="1063.1" x2="236.23" y2="1065.7" stroke="#777" stroke-width="0.6"/>
<line x1="238.64" y1="1063.1" x2="238.64" y2="1065.7" stroke="#777" stroke-width="0.6"/>
<line x1="240.8" y1="1063.1" x2="240.8" y2="1065.7" stroke="#777" stroke-width="0.6"/>
<line x1="254.99" y1="1063.1" x2="254.99" y2="1065.7" stroke="#777" stroke-width="0.6"/>
<line x1="98.1" y1="1048.31" x2="100.7" y2="1048.31" stroke="#555" stroke-width="0.9"/>
<line x1="98.1" y1="1033.52" x2="100.7" y2="1033.52" stroke="#555" stroke-width="0.9"/>
<line x1="98.1" y1="1018.73" x2="100.7" y2="1018.73" stroke="#555" stroke-width="0.9"/>
<line x1="98.1" y1="1003.94" x2="100.7" y2="1003.94" stroke="#555" stroke-width="0.9"/>
<line x1="98.1" y1="989.16" x2="100.7" y2="989.16" stroke="#555" stroke-width="0.9"/>
<line x1="98.1" y1="974.37" x2="100.7" y2="974.37" stroke="#555" stroke-width="0.9"/>
<line x1="98.1" y1="959.58" x2="100.7" y2="959.58" stroke="#555" stroke-width="0.9"/>
<line x1="98.1" y1="944.79" x2="100.7" y2="944.79" stroke="#555" stroke-width="0.9"/>
<line x1="98.1" y1="930" x2="100.7" y2="930" stroke="#555" stroke-width="0.9"/>
<text x="93.44" y="1075.83" font-family='"Liberation Serif", serif' font-weight="bold" font-size="11.2" textLength="11.62" lengthAdjust="spacingAndGlyphs" fill="#111" style="stroke:#111;stroke-width:0.35px">10</text>
<text x="105.18" y="1072.4" font-family='"Liberation Serif", serif' font-weight="bold" font-size="6.47" textLength="2.95" lengthAdjust="spacingAndGlyphs" fill="#111" style="stroke:#111;stroke-width:0.2px">0</text>
<text x="140.04" y="1075.83" font-family='"Liberation Serif", serif' font-weight="bold" font-size="11.2" textLength="11.62" lengthAdjust="spacingAndGlyphs" fill="#111" style="stroke:#111;stroke-width:0.35px">10</text>
<text x="152.15" y="1072.4" font-family='"Liberation Serif", serif' font-weight="bold" font-size="6.51" textLength="2.17" lengthAdjust="spacingAndGlyphs" fill="#111" style="stroke:#111;stroke-width:0.2px">1</text>
<text x="184.24" y="1075.83" font-family='"Liberation Serif", serif' font-weight="bold" font-size="11.2" textLength="11.62" lengthAdjust="spacingAndGlyphs" fill="#111" style="stroke:#111;stroke-width:0.35px">10</text>
<text x="195.95" y="1072.4" font-family='"Liberation Serif", serif' font-weight="bold" font-size="6.49" textLength="3.01" lengthAdjust="spacingAndGlyphs" fill="#111" style="stroke:#111;stroke-width:0.2px">2</text>
<text x="234.84" y="1075.83" font-family='"Liberation Serif", serif' font-weight="bold" font-size="11.2" textLength="11.62" lengthAdjust="spacingAndGlyphs" fill="#111" style="stroke:#111;stroke-width:0.35px">10</text>
<text x="246.58" y="1072.4" font-family='"Liberation Serif", serif' font-weight="bold" font-size="6.49" textLength="2.92" lengthAdjust="spacingAndGlyphs" fill="#111" style="stroke:#111;stroke-width:0.2px">3</text>
<text x="77.79" y="933.45" font-family='"Liberation Serif", serif' font-weight="bold" font-size="10.38" textLength="17.3" lengthAdjust="spacingAndGlyphs" fill="#111" style="stroke:#111;stroke-width:0.3px">450</text>
<text x="238.16" y="944.88" font-family='"Liberation Sans", sans-serif' font-weight="bold" font-size="29.58" textLength="17.04" lengthAdjust="spacingAndGlyphs" fill="#111" style="stroke:#111;stroke-width:0.45px">F</text>
<text x="208.54" y="962.25" font-family='"Liberation Serif", serif' font-weight="normal" font-size="12.69" textLength="62.86" lengthAdjust="spacingAndGlyphs" fill="#111" style="stroke:#111;stroke-width:0.3px">ΔMFI 9.4</text>
<text transform="translate(93.1 1029.51) rotate(-90)" x="0" y="0" font-family='"Liberation Serif", serif' font-weight="bold" font-size="16.43" textLength="76.13" lengthAdjust="spacingAndGlyphs" fill="#111">cell number</text>
<defs><polygon id="l45" points="308.1,182.1 308.2,180.7 308.3,179.0 308.4,177.8 308.8,176.1 309.2,174.7 309.6,173.4 310.0,172.0 310.3,170.6 310.7,168.9 311.1,167.9 311.5,165.4 311.9,164.7 312.2,162.6 312.6,161.7 312.9,159.8 313.2,158.3 313.6,157.7 313.9,156.7 314.2,154.3 314.6,154.3 314.9,151.4 315.3,150.3 315.6,149.7 315.9,149.3 316.3,146.2 316.6,145.0 316.9,143.1 317.1,141.9 317.4,142.7 317.6,139.1 317.9,137.8 318.1,136.6 318.4,135.9 318.7,135.0 318.9,131.2 319.2,131.0 319.4,130.8 319.7,127.2 319.9,127.8 320.2,125.3 320.3,123.4 320.4,123.7 320.5,121.4 320.7,119.9 320.8,116.5 320.9,118.0 321.0,116.3 321.1,112.9 321.2,111.5 321.3,111.1 321.5,110.4 321.6,109.0 321.7,108.7 321.8,105.6 321.9,103.1 322.0,102.0 322.0,100.3 322.1,98.9 322.2,97.8 322.3,95.7 322.3,96.4 322.4,91.8 322.5,92.1 322.6,91.8 322.7,90.8 322.7,88.4 322.8,85.7 322.9,84.5 323.0,82.3 323.0,79.6 323.1,80.0 323.2,79.4 323.4,76.6 323.5,75.5 323.7,76.1 323.8,74.2 324.0,72.4 324.2,69.4 324.3,70.9 324.5,64.9 324.6,67.4 324.8,65.0 325.0,64.8 325.2,62.8 325.4,61.9 325.6,58.9 325.9,57.3 326.1,53.5 326.3,55.1 326.5,53.1 326.7,50.1 326.9,49.2 327.1,48.2 327.3,50.3 327.5,46.0 327.9,43.5 328.4,42.4 329.0,43.9 329.7,46.0 330.3,49.5 330.9,50.0 331.5,50.4 332.2,53.1 332.3,52.7 332.4,55.0 332.5,57.4 332.6,60.4 332.8,59.6 332.9,62.9 333.0,62.7 333.1,65.9 333.2,67.3 333.3,67.0 333.4,69.8 333.5,73.2 333.6,70.6 333.8,72.8 333.9,74.0 334.0,78.1 334.1,77.8 334.2,79.4 334.3,79.7 334.4,81.7 334.5,84.3 334.6,84.1 334.7,87.0 334.8,89.9 334.9,89.8 335.0,91.7 335.1,93.9 335.3,92.9 335.4,96.6 335.5,95.5 335.6,99.1 335.7,100.1 335.8,101.4 335.9,102.0 336.0,104.6 336.1,105.6 336.2,107.0 336.3,108.1 336.4,110.5 336.5,111.9 336.6,113.7 336.7,115.5 336.9,113.8 337.0,117.5 337.1,117.8 337.2,120.5 337.3,119.6 337.4,122.0 337.5,122.9 337.6,125.3 337.7,126.7 337.8,127.2 337.9,130.2 338.0,132.1 338.1,131.3 338.2,133.0 338.2,134.9 338.3,136.7 338.4,138.3 338.5,140.1 338.6,141.0 338.7,142.0 338.8,142.8 338.9,145.0 339.1,146.5 339.4,148.9 339.6,150.2 339.8,151.3 340.1,152.8 340.3,153.0 340.5,154.1 340.8,155.7 341.0,158.1 341.3,159.8 341.5,160.0 341.7,163.4 342.0,163.5 342.2,164.7 342.7,167.4 343.1,167.8 343.6,169.4 344.0,170.1 344.5,172.0 345.2,173.8 345.9,175.0 346.7,176.5 347.4,177.8 348.8,179.2 350.1,180.3 351.5,181.5 352.0,182.1"/><polygon id="d45" points="308.1,182.1 308.3,180.8 308.5,180.3 308.7,178.9 308.9,177.8 309.2,176.8 309.5,175.4 309.8,174.7 310.1,173.6 310.4,173.5 310.7,170.7 311.1,171.3 311.4,170.5 311.7,168.6 312.0,166.8 312.3,165.9 312.6,165.1 312.9,164.7 313.1,163.5 313.4,163.7 313.6,161.4 313.8,160.9 314.0,158.9 314.3,158.5 314.5,157.1 314.7,157.1 315.0,155.9 315.2,153.4 315.4,155.0 315.7,151.6 315.9,151.9 316.1,150.6 316.4,148.9 316.6,149.8 316.8,148.7 317.0,147.8 317.3,146.2 317.5,145.0 317.7,144.2 317.8,143.9 318.0,142.2 318.2,141.4 318.3,140.0 318.5,138.0 318.7,137.5 318.8,135.2 319.0,134.5 319.2,135.7 319.4,135.6 319.5,132.9 319.7,132.2 319.9,129.9 320.0,128.9 320.2,125.1 320.4,125.9 320.5,127.3 320.7,125.3 320.8,126.3 320.8,121.9 320.9,123.5 321.0,122.9 321.1,120.2 321.1,121.4 321.2,116.6 321.3,117.6 321.4,117.3 321.4,116.5 321.5,117.4 321.6,114.3 321.7,111.7 321.7,108.8 321.8,105.1 321.9,107.5 322.0,106.7 322.0,106.8 322.1,105.6 322.2,104.1 322.2,104.0 322.2,102.1 322.3,97.6 322.4,103.4 322.4,102.0 322.4,95.8 322.5,98.0 322.6,95.6 322.6,96.3 322.6,93.8 322.7,93.7 322.8,94.0 322.8,90.7 322.9,89.1 322.9,87.2 322.9,85.2 323.0,87.0 323.1,88.9 323.1,86.2 323.1,82.7 323.2,86.3 323.2,80.5 323.3,82.5 323.3,84.0 323.4,79.4 323.5,78.3 323.6,73.8 323.7,73.8 323.9,76.2 324.0,75.3 324.1,72.9 324.2,74.2 324.3,72.1 324.4,71.0 324.5,70.5 324.7,67.2 324.8,63.8 324.9,64.4 325.0,65.0 325.1,65.3 325.3,63.5 325.4,60.7 325.6,61.6 325.7,60.9 325.9,57.9 326.0,56.6 326.1,55.8 326.3,55.0 326.4,52.1 326.6,55.9 326.7,53.1 326.8,51.8 327.0,52.0 327.1,46.8 327.2,49.2 327.3,48.1 327.5,45.9 327.6,46.0 327.9,43.9 328.1,45.0 328.4,42.6 328.8,45.4 329.1,44.8 329.5,46.0 329.8,50.0 330.1,47.4 330.3,45.6 330.6,50.0 331.0,45.8 331.5,50.5 331.9,53.1 332.0,54.5 332.1,54.4 332.1,56.2 332.2,57.8 332.3,60.3 332.4,57.8 332.4,57.2 332.5,58.8 332.6,61.1 332.7,62.9 332.7,63.6 332.8,65.7 332.9,66.5 333.0,62.9 333.1,67.4 333.1,73.1 333.2,71.2 333.3,71.2 333.4,71.8 333.4,71.0 333.5,72.9 333.6,72.7 333.7,74.0 333.7,75.6 333.8,79.3 333.9,79.4 334.0,80.8 334.0,81.8 334.1,82.2 334.2,86.4 334.3,81.4 334.3,87.6 334.4,85.8 334.5,89.1 334.6,90.9 334.6,85.6 334.7,91.4 334.8,92.0 334.9,92.4 334.9,93.4 335.0,95.0 335.1,94.9 335.1,97.3 335.2,97.8 335.3,97.6 335.4,98.8 335.4,100.5 335.5,101.3 335.6,103.8 335.7,104.7 335.7,106.7 335.8,105.6 335.9,107.5 335.9,106.9 336.0,108.6 336.1,107.1 336.2,111.2 336.2,111.8 336.3,112.1 336.4,114.7 336.5,114.5 336.5,116.0 336.6,115.0 336.7,116.8 336.8,120.0 336.8,120.9 336.9,116.1 337.0,121.7 337.1,124.0 337.1,123.7 337.2,125.3 337.3,126.4 337.3,127.9 337.4,127.3 337.5,129.7 337.5,130.3 337.6,132.3 337.7,133.7 337.7,133.9 337.8,135.0 337.9,135.6 338.0,138.6 338.0,136.7 338.1,138.3 338.2,139.1 338.2,140.6 338.3,141.9 338.4,142.1 338.4,142.9 338.5,145.0 338.7,144.8 338.8,147.3 339.0,149.9 339.2,148.1 339.3,150.0 339.5,150.5 339.7,152.2 339.8,152.0 340.0,154.0 340.2,156.2 340.4,158.1 340.5,156.3 340.7,159.4 340.9,159.0 341.0,161.6 341.2,162.7 341.4,161.3 341.5,163.6 341.7,164.7 342.0,166.1 342.4,166.0 342.7,169.0 343.0,170.1 343.3,169.1 343.7,171.6 344.0,172.0 344.5,172.9 345.0,174.3 345.5,175.4 346.0,175.4 346.5,177.0 347.0,177.8 347.9,179.2 348.7,179.5 349.6,180.1 350.4,180.8 351.3,181.5 352.0,182.1"/></defs>
<use href="#l45" fill="#acacac"/>
<use href="#d45" fill="#5f5f5f" stroke="#333" stroke-width="0.7"/>
<use href="#l45" fill="none" stroke="#202020" stroke-width="0.95"/>
<line x1="307.7" y1="42.6" x2="307.7" y2="182.1" stroke="#858585" stroke-width="1.5"/>
<line x1="304.7" y1="48.8" x2="308.5" y2="48.8" stroke="#555" stroke-width="0.9"/>
<line x1="307.2" y1="182.1" x2="479.2" y2="182.1" stroke="#1a1a1a" stroke-width="1.3"/>
<line x1="307.7" y1="182.1" x2="307.7" y2="184.7" stroke="#777" stroke-width="0.6"/>
<line x1="322.23" y1="182.1" x2="322.23" y2="184.7" stroke="#777" stroke-width="0.6"/>
<line x1="330.73" y1="182.1" x2="330.73" y2="184.7" stroke="#777" stroke-width="0.6"/>
<line x1="336.76" y1="182.1" x2="336.76" y2="184.7" stroke="#777" stroke-width="0.6"/>
<line x1="341.44" y1="182.1" x2="341.44" y2="184.7" stroke="#777" stroke-width="0.6"/>
<line x1="345.26" y1="182.1" x2="345.26" y2="184.7" stroke="#777" stroke-width="0.6"/>
<line x1="348.49" y1="182.1" x2="348.49" y2="184.7" stroke="#777" stroke-width="0.6"/>
<line x1="351.29" y1="182.1" x2="351.29" y2="184.7" stroke="#777" stroke-width="0.6"/>
<line x1="353.76" y1="182.1" x2="353.76" y2="184.7" stroke="#777" stroke-width="0.6"/>
<line x1="355.97" y1="182.1" x2="355.97" y2="184.7" stroke="#777" stroke-width="0.6"/>
<line x1="370.5" y1="182.1" x2="370.5" y2="184.7" stroke="#777" stroke-width="0.6"/>
<line x1="379" y1="182.1" x2="379" y2="184.7" stroke="#777" stroke-width="0.6"/>
<line x1="385.03" y1="182.1" x2="385.03" y2="184.7" stroke="#777" stroke-width="0.6"/>
<line x1="389.7" y1="182.1" x2="389.7" y2="184.7" stroke="#777" stroke-width="0.6"/>
<line x1="393.53" y1="182.1" x2="393.53" y2="184.7" stroke="#777" stroke-width="0.6"/>
<line x1="396.76" y1="182.1" x2="396.76" y2="184.7" stroke="#777" stroke-width="0.6"/>
<line x1="399.56" y1="182.1" x2="399.56" y2="184.7" stroke="#777" stroke-width="0.6"/>
<line x1="402.02" y1="182.1" x2="402.02" y2="184.7" stroke="#777" stroke-width="0.6"/>
<line x1="404.23" y1="182.1" x2="404.23" y2="184.7" stroke="#777" stroke-width="0.6"/>
<line x1="418.76" y1="182.1" x2="418.76" y2="184.7" stroke="#777" stroke-width="0.6"/>
<line x1="427.26" y1="182.1" x2="427.26" y2="184.7" stroke="#777" stroke-width="0.6"/>
<line x1="433.29" y1="182.1" x2="433.29" y2="184.7" stroke="#777" stroke-width="0.6"/>
<line x1="437.97" y1="182.1" x2="437.97" y2="184.7" stroke="#777" stroke-width="0.6"/>
<line x1="441.79" y1="182.1" x2="441.79" y2="184.7" stroke="#777" stroke-width="0.6"/>
<line x1="445.02" y1="182.1" x2="445.02" y2="184.7" stroke="#777" stroke-width="0.6"/>
<line x1="447.82" y1="182.1" x2="447.82" y2="184.7" stroke="#777" stroke-width="0.6"/>
<line x1="450.29" y1="182.1" x2="450.29" y2="184.7" stroke="#777" stroke-width="0.6"/>
<line x1="452.5" y1="182.1" x2="452.5" y2="184.7" stroke="#777" stroke-width="0.6"/>
<line x1="467.03" y1="182.1" x2="467.03" y2="184.7" stroke="#777" stroke-width="0.6"/>
<line x1="475.53" y1="182.1" x2="475.53" y2="184.7" stroke="#777" stroke-width="0.6"/>
<text x="300.04" y="197.02" font-family='"Liberation Serif", serif' font-weight="bold" font-size="11.2" textLength="11.62" lengthAdjust="spacingAndGlyphs" fill="#111" style="stroke:#111;stroke-width:0.35px">10</text>
<text x="311.78" y="193.6" font-family='"Liberation Serif", serif' font-weight="bold" font-size="6.47" textLength="2.95" lengthAdjust="spacingAndGlyphs" fill="#111" style="stroke:#111;stroke-width:0.2px">0</text>
<text x="347.14" y="197.02" font-family='"Liberation Serif", serif' font-weight="bold" font-size="11.2" textLength="11.62" lengthAdjust="spacingAndGlyphs" fill="#111" style="stroke:#111;stroke-width:0.35px">10</text>
<text x="359.25" y="193.6" font-family='"Liberation Serif", serif' font-weight="bold" font-size="6.51" textLength="2.17" lengthAdjust="spacingAndGlyphs" fill="#111" style="stroke:#111;stroke-width:0.2px">1</text>
<text x="397.24" y="197.02" font-family='"Liberation Serif", serif' font-weight="bold" font-size="11.2" textLength="11.62" lengthAdjust="spacingAndGlyphs" fill="#111" style="stroke:#111;stroke-width:0.35px">10</text>
<text x="408.95" y="193.6" font-family='"Liberation Serif", serif' font-weight="bold" font-size="6.49" textLength="3.01" lengthAdjust="spacingAndGlyphs" fill="#111" style="stroke:#111;stroke-width:0.2px">2</text>
<text x="446.54" y="197.02" font-family='"Liberation Serif", serif' font-weight="bold" font-size="11.2" textLength="11.62" lengthAdjust="spacingAndGlyphs" fill="#111" style="stroke:#111;stroke-width:0.35px">10</text>
<text x="458.28" y="193.6" font-family='"Liberation Serif", serif' font-weight="bold" font-size="6.49" textLength="2.92" lengthAdjust="spacingAndGlyphs" fill="#111" style="stroke:#111;stroke-width:0.2px">3</text>
<text x="285.26" y="52.25" font-family='"Liberation Serif", serif' font-weight="bold" font-size="10.38" textLength="17.32" lengthAdjust="spacingAndGlyphs" fill="#111" style="stroke:#111;stroke-width:0.3px">200</text>
<text x="297.68" y="185.25" font-family='"Liberation Serif", serif' font-weight="bold" font-size="10.38" textLength="6.13" lengthAdjust="spacingAndGlyphs" fill="#111" style="stroke:#111;stroke-width:0.3px">0</text>
<text x="470.46" y="60.28" font-family='"Liberation Sans", sans-serif' font-weight="bold" font-size="29.87" textLength="24.03" lengthAdjust="spacingAndGlyphs" fill="#111" style="stroke:#111;stroke-width:0.45px">G</text>
<text x="454.86" y="75.75" font-family='"Liberation Serif", serif' font-weight="normal" font-size="12.42" textLength="37.64" lengthAdjust="spacingAndGlyphs" fill="#111" style="stroke:#111;stroke-width:0.3px">ΔMFI</text>
<text x="496.77" y="75.75" font-family='"Liberation Serif", serif' font-weight="normal" font-size="12.33" textLength="8.97" lengthAdjust="spacingAndGlyphs" fill="#111" style="stroke:#111;stroke-width:0.3px">0</text>
<text transform="translate(298.5 157.31) rotate(-90)" x="0" y="0" font-family='"Liberation Serif", serif' font-weight="bold" font-size="14.27" textLength="76.44" lengthAdjust="spacingAndGlyphs" fill="#111">cell number</text>
<defs><polygon id="l52" points="308.4,352.1 308.5,350.4 308.7,349.1 308.8,347.7 308.9,347.2 309.1,343.5 309.2,343.5 309.4,340.8 309.5,340.0 310.2,339.1 310.8,335.7 311.5,336.1 312.2,334.0 312.8,331.9 313.5,332.0 314.0,331.0 314.5,329.7 314.9,328.2 315.4,326.4 315.9,324.1 316.4,323.4 316.9,322.3 317.3,319.4 317.8,319.4 318.3,318.5 318.6,319.4 318.9,312.3 319.2,318.1 319.5,307.7 319.8,314.8 320.1,313.0 320.4,309.8 320.7,304.0 321.0,305.0 321.1,305.9 321.2,299.9 321.3,297.8 321.4,300.8 321.5,297.8 321.6,294.4 321.7,293.4 321.8,294.8 321.9,296.9 322.0,290.0 322.1,290.4 322.3,289.9 322.4,285.3 322.5,284.1 322.7,285.0 322.8,284.6 322.9,281.7 323.1,277.7 323.2,275.2 323.3,273.8 323.5,270.6 323.6,268.9 323.7,272.5 323.9,265.1 324.0,268.0 324.1,270.8 324.2,263.2 324.3,264.0 324.4,269.0 324.5,255.3 324.5,251.7 324.6,253.8 324.7,262.5 324.8,264.6 324.9,251.1 325.0,251.4 325.1,253.8 325.2,252.7 325.3,255.6 325.4,246.7 325.5,254.3 325.5,250.1 325.6,243.8 325.7,235.7 325.8,236.9 325.9,234.3 326.0,237.0 326.3,229.9 326.6,230.4 326.9,234.7 327.1,229.5 327.4,228.6 327.7,230.2 328.0,226.0 328.4,224.7 328.7,223.2 329.1,227.5 329.4,226.5 329.8,218.0 330.0,219.4 330.3,217.8 330.5,218.1 330.8,218.1 331.0,225.0 331.2,224.9 331.4,227.3 331.6,232.0 331.8,236.3 331.9,245.5 332.1,235.3 332.3,232.9 332.5,237.0 332.6,238.5 332.7,231.8 332.8,234.9 332.9,239.1 333.0,244.6 333.0,238.5 333.1,240.8 333.2,253.4 333.3,247.9 333.4,246.4 333.5,255.8 333.6,246.5 333.7,256.0 333.8,254.4 333.9,259.5 334.0,258.6 334.0,259.9 334.1,256.5 334.2,264.9 334.3,263.1 334.4,264.0 334.5,268.0 334.6,270.6 334.8,269.4 334.9,277.6 335.0,278.7 335.2,277.1 335.3,282.6 335.4,281.5 335.6,280.7 335.7,283.7 335.8,284.9 336.0,287.4 336.1,284.2 336.2,287.8 336.4,296.5 336.5,290.0 336.6,289.0 336.7,288.4 336.8,292.3 336.9,292.5 337.1,299.6 337.2,293.9 337.3,298.4 337.4,301.8 337.5,303.0 338.0,301.1 338.4,304.9 338.9,309.3 339.4,308.6 339.9,308.8 340.3,312.1 340.8,311.9 341.3,315.9 341.8,320.0 342.2,314.4 342.7,318.5 343.6,318.9 344.6,321.3 345.2,321.8 345.8,327.7 346.4,325.9 346.9,324.7 347.5,329.5 348.1,330.0 350.1,332.8 352.0,331.5 353.9,327.2 355.8,331.0 356.6,332.4 357.3,332.8 358.1,335.2 358.8,334.3 359.6,337.7 360.0,335.9 360.4,336.0 360.8,334.1 361.2,332.0 361.4,333.5 361.5,332.3 361.7,336.7 361.8,338.6 362.0,340.0 363.7,339.2 365.4,341.5 367.1,339.5 368.8,341.2 370.4,339.7 372.1,339.6 373.1,339.6 374.0,342.3 375.0,342.0 375.9,343.7 376.9,345.4 378.1,347.5 379.2,346.6 380.4,348.2 381.5,349.5 382.7,350.2 384.2,351.5 385.6,350.3 387.1,351.7 388.5,350.8 390.0,351.0 391.5,350.5 393.0,351.6 394.5,351.5 396.0,351.5 397.0,352.1"/><polygon id="d52" points="308.4,352.1 308.4,350.9 308.4,350.1 308.4,348.6 308.4,347.3 308.4,346.9 308.4,346.7 308.4,344.5 308.4,344.5 308.4,342.2 308.5,341.9 308.5,342.0 308.5,340.8 308.5,339.0 308.5,336.3 308.5,337.2 308.5,336.6 308.5,335.2 308.5,334.1 308.5,333.5 308.5,330.8 308.5,331.4 308.5,329.4 308.5,327.3 308.5,328.8 308.5,327.4 308.5,326.9 308.5,324.1 308.5,326.0 308.6,322.6 308.6,321.8 308.6,320.4 308.6,319.8 308.6,319.9 308.6,317.6 308.6,316.3 308.6,314.0 308.6,314.7 308.6,314.0 309.0,313.1 309.3,316.0 309.3,316.4 309.4,316.5 309.4,320.5 309.4,319.8 309.4,321.6 309.5,323.0 309.5,323.8 309.5,324.9 309.5,324.7 309.6,326.6 309.6,326.6 309.6,328.6 309.7,329.4 309.7,330.8 309.7,331.6 309.7,331.9 309.8,332.4 309.8,335.3 309.8,337.3 309.8,337.4 309.9,337.3 309.9,338.8 310.3,338.1 310.7,337.0 311.1,335.6 311.5,335.0 312.0,334.3 312.4,333.3 312.9,331.4 313.4,331.2 314.4,332.4 315.3,333.0 315.5,331.6 315.7,329.0 315.9,329.6 316.1,330.1 316.3,328.2 316.6,327.3 316.8,326.5 317.0,324.8 317.2,324.2 317.4,323.1 317.6,321.9 318.0,321.7 318.4,320.0 318.7,320.8 319.1,316.0 319.5,316.5 319.8,317.3 320.0,314.1 320.3,312.2 320.6,312.3 320.8,312.3 321.1,310.4 321.2,309.3 321.3,306.4 321.4,307.8 321.5,305.2 321.6,305.7 321.7,303.0 321.8,302.7 321.8,301.1 321.9,300.5 321.9,298.8 321.9,296.0 322.0,298.7 322.0,294.7 322.0,294.9 322.1,294.4 322.1,294.0 322.1,293.2 322.2,291.2 322.2,289.1 322.2,291.9 322.3,287.8 322.3,286.9 322.4,287.5 322.5,285.7 322.5,283.7 322.6,282.8 322.7,279.4 322.8,282.4 322.9,280.1 322.9,281.5 323.0,278.9 323.1,276.5 323.2,275.2 323.2,273.9 323.3,273.8 323.4,268.6 323.5,274.5 323.6,270.3 323.6,271.8 323.7,271.9 323.8,267.7 323.9,268.6 323.9,265.1 324.0,263.5 324.1,264.3 324.1,263.1 324.2,262.5 324.3,258.9 324.3,260.1 324.4,257.3 324.5,256.0 324.5,258.6 324.6,254.4 324.7,257.1 324.7,254.5 324.8,251.9 324.9,253.1 324.9,252.0 325.0,249.3 325.1,248.1 325.1,245.9 325.2,244.3 325.3,245.0 325.3,244.8 325.4,245.9 325.5,238.6 325.5,242.9 325.6,239.7 325.7,239.9 325.7,239.8 325.8,236.9 325.9,235.3 326.1,230.5 326.2,231.4 326.4,231.7 326.5,229.4 326.6,227.9 326.8,230.9 326.9,230.8 327.1,230.3 327.2,228.7 327.4,225.5 327.5,225.0 327.7,221.9 328.0,221.5 328.2,218.2 328.4,222.9 328.7,218.8 328.9,220.1 329.1,220.8 329.4,219.6 329.6,215.8 329.8,220.6 329.9,215.9 330.1,219.6 330.2,218.8 330.4,221.1 330.5,222.0 330.6,227.2 330.8,220.2 330.9,228.1 331.1,226.1 331.2,228.4 331.4,226.7 331.5,229.2 331.6,225.7 331.7,231.6 331.8,232.1 332.0,233.8 332.1,235.9 332.2,235.5 332.3,236.9 332.4,237.8 332.4,242.0 332.5,241.2 332.6,237.9 332.6,241.2 332.7,243.9 332.7,243.2 332.8,245.1 332.9,243.5 332.9,247.4 333.0,245.8 333.1,248.0 333.1,252.1 333.2,250.6 333.2,252.2 333.3,250.1 333.4,257.9 333.4,257.2 333.5,258.1 333.6,257.1 333.6,256.3 333.7,258.5 333.8,261.4 333.8,261.9 333.9,262.8 333.9,264.1 334.0,268.0 334.1,266.0 334.1,267.6 334.2,267.7 334.3,267.1 334.4,270.7 334.5,272.9 334.5,269.8 334.6,272.0 334.7,269.8 334.8,278.2 334.9,275.3 335.0,274.1 335.0,278.1 335.1,277.9 335.2,279.1 335.3,281.8 335.4,283.1 335.5,281.2 335.5,283.3 335.6,284.1 335.7,282.5 335.8,286.9 335.9,289.0 336.0,288.6 336.1,291.9 336.2,288.5 336.3,290.6 336.4,291.0 336.4,295.1 336.5,297.1 336.6,297.0 336.7,297.6 336.8,300.1 336.9,299.2 337.0,300.2 337.2,301.3 337.3,302.2 337.4,302.4 337.6,303.3 337.7,305.2 337.8,306.7 338.0,309.0 338.1,311.0 338.2,306.5 338.3,308.3 338.5,312.6 338.6,312.2 338.7,314.7 338.9,313.5 339.0,316.7 339.1,316.6 339.3,318.6 339.4,318.5 339.6,320.3 339.8,320.0 340.0,321.1 340.2,322.3 340.4,322.3 340.6,325.0 340.8,324.0 340.9,325.8 341.1,328.7 341.3,328.6 341.5,328.5 341.7,329.3 341.9,332.3 342.1,332.6 342.3,333.8 342.6,335.0 342.8,335.2 343.1,337.6 343.3,337.8 343.6,339.6 343.8,341.9 344.1,341.2 344.3,342.1 344.6,343.5 344.9,345.2 345.2,345.7 345.5,346.3 345.9,347.9 346.2,349.3 346.5,349.8 346.8,351.2 347.1,352.1"/></defs>
<use href="#l52" fill="#acacac"/>
<use href="#d52" fill="#5f5f5f" stroke="#333" stroke-width="0.7"/>
<use href="#l52" fill="none" stroke="#202020" stroke-width="0.95"/>
<line x1="308.3" y1="217.7" x2="308.3" y2="352.1" stroke="#858585" stroke-width="1.5"/>
<line x1="305.3" y1="219.5" x2="309.1" y2="219.5" stroke="#555" stroke-width="0.9"/>
<line x1="307.8" y1="352.1" x2="473.8" y2="352.1" stroke="#1a1a1a" stroke-width="1.3"/>
<line x1="308.3" y1="352.1" x2="308.3" y2="354.7" stroke="#777" stroke-width="0.6"/>
<line x1="322.41" y1="352.1" x2="322.41" y2="354.7" stroke="#777" stroke-width="0.6"/>
<line x1="330.66" y1="352.1" x2="330.66" y2="354.7" stroke="#777" stroke-width="0.6"/>
<line x1="336.52" y1="352.1" x2="336.52" y2="354.7" stroke="#777" stroke-width="0.6"/>
<line x1="341.06" y1="352.1" x2="341.06" y2="354.7" stroke="#777" stroke-width="0.6"/>
<line x1="344.77" y1="352.1" x2="344.77" y2="354.7" stroke="#777" stroke-width="0.6"/>
<line x1="347.91" y1="352.1" x2="347.91" y2="354.7" stroke="#777" stroke-width="0.6"/>
<line x1="350.62" y1="352.1" x2="350.62" y2="354.7" stroke="#777" stroke-width="0.6"/>
<line x1="353.02" y1="352.1" x2="353.02" y2="354.7" stroke="#777" stroke-width="0.6"/>
<line x1="355.17" y1="352.1" x2="355.17" y2="354.7" stroke="#777" stroke-width="0.6"/>
<line x1="369.27" y1="352.1" x2="369.27" y2="354.7" stroke="#777" stroke-width="0.6"/>
<line x1="377.53" y1="352.1" x2="377.53" y2="354.7" stroke="#777" stroke-width="0.6"/>
<line x1="383.38" y1="352.1" x2="383.38" y2="354.7" stroke="#777" stroke-width="0.6"/>
<line x1="387.93" y1="352.1" x2="387.93" y2="354.7" stroke="#777" stroke-width="0.6"/>
<line x1="391.64" y1="352.1" x2="391.64" y2="354.7" stroke="#777" stroke-width="0.6"/>
<line x1="394.77" y1="352.1" x2="394.77" y2="354.7" stroke="#777" stroke-width="0.6"/>
<line x1="397.49" y1="352.1" x2="397.49" y2="354.7" stroke="#777" stroke-width="0.6"/>
<line x1="399.89" y1="352.1" x2="399.89" y2="354.7" stroke="#777" stroke-width="0.6"/>
<line x1="402.03" y1="352.1" x2="402.03" y2="354.7" stroke="#777" stroke-width="0.6"/>
<line x1="416.14" y1="352.1" x2="416.14" y2="354.7" stroke="#777" stroke-width="0.6"/>
<line x1="424.39" y1="352.1" x2="424.39" y2="354.7" stroke="#777" stroke-width="0.6"/>
<line x1="430.25" y1="352.1" x2="430.25" y2="354.7" stroke="#777" stroke-width="0.6"/>
<line x1="434.79" y1="352.1" x2="434.79" y2="354.7" stroke="#777" stroke-width="0.6"/>
<line x1="438.5" y1="352.1" x2="438.5" y2="354.7" stroke="#777" stroke-width="0.6"/>
<line x1="441.64" y1="352.1" x2="441.64" y2="354.7" stroke="#777" stroke-width="0.6"/>
<line x1="444.36" y1="352.1" x2="444.36" y2="354.7" stroke="#777" stroke-width="0.6"/>
<line x1="446.76" y1="352.1" x2="446.76" y2="354.7" stroke="#777" stroke-width="0.6"/>
<line x1="448.9" y1="352.1" x2="448.9" y2="354.7" stroke="#777" stroke-width="0.6"/>
<line x1="463.01" y1="352.1" x2="463.01" y2="354.7" stroke="#777" stroke-width="0.6"/>
<line x1="471.26" y1="352.1" x2="471.26" y2="354.7" stroke="#777" stroke-width="0.6"/>
<text x="301.54" y="366.12" font-family='"Liberation Serif", serif' font-weight="bold" font-size="11.2" textLength="11.62" lengthAdjust="spacingAndGlyphs" fill="#111" style="stroke:#111;stroke-width:0.35px">10</text>
<text x="313.28" y="362.7" font-family='"Liberation Serif", serif' font-weight="bold" font-size="6.47" textLength="2.95" lengthAdjust="spacingAndGlyphs" fill="#111" style="stroke:#111;stroke-width:0.2px">0</text>
<text x="349.04" y="366.12" font-family='"Liberation Serif", serif' font-weight="bold" font-size="11.2" textLength="11.62" lengthAdjust="spacingAndGlyphs" fill="#111" style="stroke:#111;stroke-width:0.35px">10</text>
<text x="361.15" y="362.7" font-family='"Liberation Serif", serif' font-weight="bold" font-size="6.51" textLength="2.17" lengthAdjust="spacingAndGlyphs" fill="#111" style="stroke:#111;stroke-width:0.2px">1</text>
<text x="394.84" y="366.12" font-family='"Liberation Serif", serif' font-weight="bold" font-size="11.2" textLength="11.62" lengthAdjust="spacingAndGlyphs" fill="#111" style="stroke:#111;stroke-width:0.35px">10</text>
<text x="406.55" y="362.7" font-family='"Liberation Serif", serif' font-weight="bold" font-size="6.49" textLength="3.01" lengthAdjust="spacingAndGlyphs" fill="#111" style="stroke:#111;stroke-width:0.2px">2</text>
<text x="442.94" y="366.12" font-family='"Liberation Serif", serif' font-weight="bold" font-size="11.2" textLength="11.62" lengthAdjust="spacingAndGlyphs" fill="#111" style="stroke:#111;stroke-width:0.35px">10</text>
<text x="454.68" y="362.7" font-family='"Liberation Serif", serif' font-weight="bold" font-size="6.49" textLength="2.92" lengthAdjust="spacingAndGlyphs" fill="#111" style="stroke:#111;stroke-width:0.2px">3</text>
<text x="284.65" y="222.95" font-family='"Liberation Serif", serif' font-weight="bold" font-size="10.38" textLength="17.75" lengthAdjust="spacingAndGlyphs" fill="#111" style="stroke:#111;stroke-width:0.3px">220</text>
<text x="471.05" y="234.18" font-family='"Liberation Sans", sans-serif' font-weight="bold" font-size="29.43" textLength="21.31" lengthAdjust="spacingAndGlyphs" fill="#111" style="stroke:#111;stroke-width:0.45px">H</text>
<text x="455.75" y="249.25" font-family='"Liberation Serif", serif' font-weight="normal" font-size="13.18" textLength="61.61" lengthAdjust="spacingAndGlyphs" fill="#111" style="stroke:#111;stroke-width:0.3px">ΔMFI 1.5</text>
<text transform="translate(298.5 328.51) rotate(-90)" x="0" y="0" font-family='"Liberation Serif", serif' font-weight="bold" font-size="14.84" textLength="76.54" lengthAdjust="spacingAndGlyphs" fill="#111">cell number</text>
<defs><polygon id="l59" points="310.0,524.6 310.8,523.3 311.6,520.9 312.4,521.0 313.2,520.0 314.1,518.0 314.9,519.0 315.7,516.6 316.5,515.5 317.3,514.2 318.0,512.2 318.6,512.7 319.3,509.5 320.0,510.6 320.7,507.3 321.4,508.9 322.0,506.2 322.7,501.1 323.4,498.1 324.0,501.5 324.7,498.6 325.4,498.0 325.9,497.2 326.4,498.0 326.8,497.3 327.3,492.9 327.8,490.6 328.3,490.0 328.8,491.7 329.3,485.4 329.8,486.3 330.2,481.8 330.7,481.4 331.2,481.9 331.7,478.4 332.1,482.4 332.6,475.8 333.0,474.8 333.5,473.0 334.0,471.5 334.4,471.7 334.9,474.0 335.3,471.6 335.8,468.1 336.9,467.4 338.1,475.0 339.2,464.6 340.1,466.8 341.0,467.0 341.9,467.9 342.7,464.6 343.2,464.5 343.7,469.9 344.2,474.8 344.7,466.6 345.2,470.6 345.7,476.6 346.2,475.0 347.1,478.4 347.9,481.4 348.8,478.8 349.6,479.6 350.8,477.1 352.0,477.0 353.7,479.5 355.4,478.5 355.9,479.0 356.4,480.1 356.9,484.6 357.4,484.8 358.0,488.6 358.5,486.4 359.0,491.5 359.5,488.5 360.0,491.2 360.8,495.3 361.7,494.3 362.5,494.7 363.3,498.5 364.1,493.3 365.0,498.4 365.8,500.4 366.8,502.8 367.8,501.2 368.8,502.1 369.8,503.4 370.8,505.9 371.8,507.9 372.8,508.9 373.8,509.6 375.0,510.6 376.1,512.1 377.3,511.8 378.5,513.4 379.6,516.9 380.8,515.9 381.9,515.9 383.1,516.5 384.5,517.1 385.9,519.4 387.2,516.8 388.6,517.9 390.0,519.1 391.4,521.3 392.8,518.8 394.1,518.8 395.5,520.6 396.9,521.2 398.3,520.5 399.7,521.0 401.1,522.9 402.5,522.5 403.9,521.5 405.2,522.9 406.6,522.5 408.0,522.9 409.4,523.3 410.8,523.5 412.0,524.6"/><polygon id="d59" points="309.0,524.6 309.2,523.8 309.5,522.4 309.7,521.6 309.9,520.0 310.2,519.8 310.4,518.8 310.6,517.9 310.8,517.3 311.1,515.0 311.3,514.7 311.5,513.7 311.8,512.3 312.0,511.9 312.3,511.1 312.7,508.9 313.0,508.9 313.3,507.7 313.7,507.2 314.0,506.0 314.3,505.9 314.7,503.7 315.0,502.7 315.2,500.6 315.4,499.9 315.6,500.1 315.8,497.6 316.0,497.5 316.3,497.1 316.5,495.2 316.7,493.1 316.9,492.6 317.1,493.4 317.3,491.2 317.5,489.6 317.7,488.8 317.9,489.4 318.1,487.3 318.3,485.0 318.6,484.4 318.8,482.0 319.0,482.0 319.2,483.1 319.4,483.4 319.6,479.6 319.7,478.8 319.9,476.2 320.0,474.8 320.2,475.4 320.3,473.9 320.5,471.4 320.6,473.2 320.8,472.4 320.9,471.0 321.1,468.6 321.2,468.1 321.2,467.4 321.3,464.3 321.3,465.8 321.4,461.6 321.4,462.7 321.5,461.6 321.5,460.7 321.5,462.2 321.6,457.9 321.6,458.9 321.7,455.4 321.7,454.5 321.8,454.5 321.8,454.4 321.9,449.6 321.9,451.9 321.9,449.8 322.0,448.8 322.0,449.3 322.0,446.6 322.0,450.0 322.1,447.7 322.1,443.5 322.1,443.4 322.2,441.7 322.2,440.6 322.2,443.0 322.2,440.6 322.3,439.5 322.3,437.3 322.3,438.3 322.4,435.2 322.4,434.8 322.4,431.1 322.4,433.4 322.5,429.3 322.5,434.3 322.5,428.7 322.6,428.3 322.6,425.9 322.6,427.1 322.6,425.1 322.7,426.6 322.7,423.1 322.8,421.1 322.9,421.6 322.9,416.8 323.0,420.6 323.1,416.8 323.2,416.7 323.3,414.7 323.4,414.0 323.4,413.3 323.5,415.1 323.6,410.3 323.7,411.4 323.8,408.4 323.9,410.3 323.9,409.5 324.0,405.9 324.1,406.3 324.2,407.7 324.3,401.5 324.4,400.6 324.4,399.1 324.5,403.2 324.6,400.0 325.0,397.0 325.4,400.2 325.7,397.8 326.1,398.3 326.5,395.0 326.8,395.5 327.2,392.1 327.5,391.3 328.7,390.0 328.8,389.9 328.8,384.9 328.9,385.5 328.9,384.3 328.9,386.0 329.0,383.7 329.1,381.4 329.2,385.1 329.2,389.3 329.3,386.4 329.4,387.5 329.5,390.0 330.5,391.3 330.8,392.8 331.2,393.6 331.5,394.2 331.7,391.2 331.8,396.2 332.0,396.9 332.1,398.5 332.3,400.0 332.4,402.7 332.4,403.4 332.5,403.4 332.6,403.7 332.6,405.4 332.7,404.0 332.8,408.4 332.8,412.3 332.9,413.3 333.0,409.6 333.0,409.8 333.1,413.6 333.1,409.9 333.2,413.7 333.3,416.0 333.3,415.5 333.4,414.3 333.5,417.9 333.5,417.6 333.6,421.5 333.7,424.5 333.7,420.0 333.8,423.1 333.9,423.7 333.9,423.5 334.0,428.6 334.1,425.4 334.2,427.9 334.2,427.8 334.3,427.9 334.4,432.0 334.4,432.1 334.5,430.9 334.6,435.2 334.7,434.4 334.7,433.3 334.8,436.3 334.9,439.7 334.9,441.3 335.0,441.8 335.1,442.7 335.2,441.6 335.2,445.0 335.3,443.3 335.4,444.4 335.4,448.4 335.5,449.5 335.6,447.4 335.7,449.4 335.7,448.6 335.8,451.9 336.1,455.1 336.4,453.5 336.6,454.1 336.9,456.5 337.0,456.6 337.1,461.8 337.1,459.8 337.2,460.0 337.3,461.9 337.4,461.0 337.5,464.0 337.6,462.5 337.6,466.6 337.7,466.0 337.8,468.5 337.9,467.7 338.0,469.3 338.1,470.4 338.1,472.0 338.2,474.4 338.3,474.5 338.4,473.4 338.5,475.6 338.6,475.8 338.6,477.3 338.7,477.5 338.8,479.6 339.0,477.7 339.1,481.1 339.3,481.8 339.5,483.7 339.6,483.1 339.8,485.3 340.0,486.2 340.2,487.8 340.3,488.1 340.5,488.4 340.7,492.0 340.8,491.5 341.0,492.1 341.2,494.0 341.3,493.2 341.5,496.6 341.7,496.5 341.9,496.6 342.0,497.7 342.2,499.2 342.4,500.7 342.5,500.5 342.7,502.7 342.9,504.1 343.1,504.6 343.3,505.6 343.5,506.7 343.7,507.1 344.0,508.5 344.2,510.7 344.4,511.3 344.6,511.4 344.8,513.2 345.0,514.2 345.4,515.2 345.7,517.2 346.1,517.5 346.4,517.9 346.8,519.2 347.1,520.5 347.4,520.6 347.8,522.6 348.1,523.4 348.5,524.6"/></defs>
<use href="#l59" fill="#acacac"/>
<use href="#d59" fill="#5f5f5f" stroke="#333" stroke-width="0.7"/>
<use href="#l59" fill="none" stroke="#202020" stroke-width="0.95"/>
<line x1="307.8" y1="383.5" x2="307.8" y2="524.6" stroke="#858585" stroke-width="1.5"/>
<line x1="304.8" y1="385.9" x2="308.6" y2="385.9" stroke="#555" stroke-width="0.9"/>
<line x1="307.3" y1="524.6" x2="476.9" y2="524.6" stroke="#1a1a1a" stroke-width="1.3"/>
<line x1="307.8" y1="524.6" x2="307.8" y2="527.2" stroke="#777" stroke-width="0.6"/>
<line x1="322.4" y1="524.6" x2="322.4" y2="527.2" stroke="#777" stroke-width="0.6"/>
<line x1="330.94" y1="524.6" x2="330.94" y2="527.2" stroke="#777" stroke-width="0.6"/>
<line x1="337" y1="524.6" x2="337" y2="527.2" stroke="#777" stroke-width="0.6"/>
<line x1="341.7" y1="524.6" x2="341.7" y2="527.2" stroke="#777" stroke-width="0.6"/>
<line x1="345.54" y1="524.6" x2="345.54" y2="527.2" stroke="#777" stroke-width="0.6"/>
<line x1="348.79" y1="524.6" x2="348.79" y2="527.2" stroke="#777" stroke-width="0.6"/>
<line x1="351.6" y1="524.6" x2="351.6" y2="527.2" stroke="#777" stroke-width="0.6"/>
<line x1="354.08" y1="524.6" x2="354.08" y2="527.2" stroke="#777" stroke-width="0.6"/>
<line x1="356.3" y1="524.6" x2="356.3" y2="527.2" stroke="#777" stroke-width="0.6"/>
<line x1="370.9" y1="524.6" x2="370.9" y2="527.2" stroke="#777" stroke-width="0.6"/>
<line x1="379.44" y1="524.6" x2="379.44" y2="527.2" stroke="#777" stroke-width="0.6"/>
<line x1="385.5" y1="524.6" x2="385.5" y2="527.2" stroke="#777" stroke-width="0.6"/>
<line x1="390.2" y1="524.6" x2="390.2" y2="527.2" stroke="#777" stroke-width="0.6"/>
<line x1="394.04" y1="524.6" x2="394.04" y2="527.2" stroke="#777" stroke-width="0.6"/>
<line x1="397.29" y1="524.6" x2="397.29" y2="527.2" stroke="#777" stroke-width="0.6"/>
<line x1="400.1" y1="524.6" x2="400.1" y2="527.2" stroke="#777" stroke-width="0.6"/>
<line x1="402.58" y1="524.6" x2="402.58" y2="527.2" stroke="#777" stroke-width="0.6"/>
<line x1="404.8" y1="524.6" x2="404.8" y2="527.2" stroke="#777" stroke-width="0.6"/>
<line x1="419.4" y1="524.6" x2="419.4" y2="527.2" stroke="#777" stroke-width="0.6"/>
<line x1="427.94" y1="524.6" x2="427.94" y2="527.2" stroke="#777" stroke-width="0.6"/>
<line x1="434" y1="524.6" x2="434" y2="527.2" stroke="#777" stroke-width="0.6"/>
<line x1="438.7" y1="524.6" x2="438.7" y2="527.2" stroke="#777" stroke-width="0.6"/>
<line x1="442.54" y1="524.6" x2="442.54" y2="527.2" stroke="#777" stroke-width="0.6"/>
<line x1="445.79" y1="524.6" x2="445.79" y2="527.2" stroke="#777" stroke-width="0.6"/>
<line x1="448.6" y1="524.6" x2="448.6" y2="527.2" stroke="#777" stroke-width="0.6"/>
<line x1="451.08" y1="524.6" x2="451.08" y2="527.2" stroke="#777" stroke-width="0.6"/>
<line x1="453.3" y1="524.6" x2="453.3" y2="527.2" stroke="#777" stroke-width="0.6"/>
<line x1="467.9" y1="524.6" x2="467.9" y2="527.2" stroke="#777" stroke-width="0.6"/>
<line x1="476.44" y1="524.6" x2="476.44" y2="527.2" stroke="#777" stroke-width="0.6"/>
<text x="298.44" y="537.93" font-family='"Liberation Serif", serif' font-weight="bold" font-size="11.2" textLength="11.62" lengthAdjust="spacingAndGlyphs" fill="#111" style="stroke:#111;stroke-width:0.35px">10</text>
<text x="310.18" y="534.5" font-family='"Liberation Serif", serif' font-weight="bold" font-size="6.47" textLength="2.95" lengthAdjust="spacingAndGlyphs" fill="#111" style="stroke:#111;stroke-width:0.2px">0</text>
<text x="347.14" y="537.93" font-family='"Liberation Serif", serif' font-weight="bold" font-size="11.2" textLength="11.62" lengthAdjust="spacingAndGlyphs" fill="#111" style="stroke:#111;stroke-width:0.35px">10</text>
<text x="359.25" y="534.5" font-family='"Liberation Serif", serif' font-weight="bold" font-size="6.51" textLength="2.17" lengthAdjust="spacingAndGlyphs" fill="#111" style="stroke:#111;stroke-width:0.2px">1</text>
<text x="397.34" y="537.93" font-family='"Liberation Serif", serif' font-weight="bold" font-size="11.2" textLength="11.62" lengthAdjust="spacingAndGlyphs" fill="#111" style="stroke:#111;stroke-width:0.35px">10</text>
<text x="409.05" y="534.5" font-family='"Liberation Serif", serif' font-weight="bold" font-size="6.49" textLength="3.01" lengthAdjust="spacingAndGlyphs" fill="#111" style="stroke:#111;stroke-width:0.2px">2</text>
<text x="447.34" y="537.93" font-family='"Liberation Serif", serif' font-weight="bold" font-size="11.2" textLength="11.62" lengthAdjust="spacingAndGlyphs" fill="#111" style="stroke:#111;stroke-width:0.35px">10</text>
<text x="459.08" y="534.5" font-family='"Liberation Serif", serif' font-weight="bold" font-size="6.49" textLength="2.92" lengthAdjust="spacingAndGlyphs" fill="#111" style="stroke:#111;stroke-width:0.2px">3</text>
<text x="286.06" y="389.35" font-family='"Liberation Serif", serif' font-weight="bold" font-size="10.38" textLength="17.43" lengthAdjust="spacingAndGlyphs" fill="#111" style="stroke:#111;stroke-width:0.3px">220</text>
<text x="474.36" y="408.67" font-family='"Liberation Sans", sans-serif' font-weight="bold" font-size="29" textLength="8.58" lengthAdjust="spacingAndGlyphs" fill="#111" style="stroke:#111;stroke-width:0.45px">I</text>
<text x="454.16" y="424.65" font-family='"Liberation Serif", serif' font-weight="normal" font-size="13.14" textLength="61.24" lengthAdjust="spacingAndGlyphs" fill="#111" style="stroke:#111;stroke-width:0.3px">ΔMFI 2.7</text>
<text transform="translate(298.7 497.21) rotate(-90)" x="0" y="0" font-family='"Liberation Serif", serif' font-weight="bold" font-size="15.13" textLength="76.54" lengthAdjust="spacingAndGlyphs" fill="#111">cell number</text>
<defs><polygon id="l66" points="309.2,714.0 309.6,712.2 310.1,711.0 310.5,709.9 311.0,707.5 311.4,707.3 311.9,703.6 312.3,706.4 312.7,703.9 313.2,700.3 313.6,701.1 314.1,699.8 314.5,697.5 315.0,696.2 315.4,695.6 315.8,694.3 316.3,691.4 316.7,691.1 317.2,691.7 317.6,690.6 318.1,686.8 318.5,685.4 319.1,680.7 319.6,687.9 320.2,684.5 320.8,676.4 321.4,679.5 321.9,680.8 322.5,674.2 323.1,674.7 323.7,674.3 324.2,669.0 324.8,671.1 325.4,669.0 326.1,665.6 326.9,664.6 327.6,659.3 328.3,658.4 329.1,663.9 329.8,660.8 330.6,663.2 331.3,660.2 332.0,655.0 332.8,655.1 333.5,655.4 334.3,656.8 335.2,661.5 336.0,660.0 337.5,660.2 338.9,663.5 340.4,662.0 341.7,664.3 343.0,655.8 344.4,656.2 345.7,658.8 346.1,663.2 346.6,660.1 347.0,664.9 347.4,662.5 347.9,659.5 348.3,670.7 348.7,666.3 349.2,664.7 349.6,671.5 350.4,670.9 351.2,678.2 352.0,676.0 352.8,671.0 353.6,679.6 354.5,679.7 355.3,676.8 356.1,680.1 356.9,681.0 357.7,683.0 358.7,682.5 359.6,683.8 360.6,687.6 361.5,686.5 362.5,690.1 363.4,687.9 364.4,689.2 365.4,691.0 366.3,691.7 367.3,694.9 368.2,697.1 369.2,695.8 370.2,695.9 371.3,695.8 372.3,700.0 373.3,700.6 374.4,699.8 375.4,701.5 376.4,701.9 377.5,706.2 378.5,706.2 379.9,707.0 381.3,707.3 382.6,707.6 384.0,708.4 385.4,708.4 386.8,709.3 388.2,708.5 389.5,710.0 390.9,710.3 392.3,710.8 393.8,710.7 395.2,711.3 396.7,710.4 398.2,711.6 399.7,711.6 401.1,712.0 402.6,712.5 404.1,712.2 405.6,712.3 407.0,712.6 408.5,713.0 410.0,714.0"/><polygon id="d66" points="308.0,714.0 308.1,712.9 308.3,711.7 308.4,711.2 308.6,709.9 308.7,708.4 308.9,707.8 309.0,706.6 309.2,706.1 309.3,704.6 309.5,705.2 309.6,703.1 309.8,702.7 309.9,700.0 310.0,699.3 310.2,699.0 310.3,698.0 310.5,696.5 310.6,695.2 310.8,694.8 310.9,693.0 311.1,692.5 311.2,691.2 311.4,691.2 311.5,690.0 311.8,687.9 312.1,687.8 312.4,685.5 312.7,683.8 313.0,685.7 313.3,681.5 313.6,682.1 313.9,682.1 314.1,678.8 314.4,680.2 314.7,679.4 315.0,677.3 315.3,678.4 315.6,678.4 315.9,677.0 316.2,673.8 316.3,672.5 316.4,672.2 316.5,671.6 316.6,669.7 316.7,668.8 316.8,667.7 316.9,665.8 317.0,666.3 317.1,662.9 317.2,664.3 317.3,663.8 317.4,661.6 317.5,659.6 317.6,660.0 317.7,656.7 317.8,657.5 317.9,657.8 318.0,655.5 318.1,655.4 318.2,652.0 318.3,651.7 318.4,653.1 318.5,651.3 318.6,648.5 318.7,649.6 318.8,648.3 318.9,645.5 319.0,643.0 319.1,644.0 319.2,645.5 319.3,641.1 319.4,642.4 319.5,640.5 319.6,639.0 320.0,637.6 320.4,636.9 320.5,635.6 320.5,634.3 320.6,634.1 320.7,631.9 320.8,634.3 320.8,629.7 320.9,631.4 321.0,629.1 321.1,626.5 321.1,624.2 321.2,623.6 321.3,624.6 321.4,623.1 321.4,622.5 321.5,623.4 321.6,621.0 321.7,619.2 321.8,619.6 321.8,616.0 321.9,616.0 321.9,616.4 321.9,612.5 321.9,614.0 321.9,613.2 321.9,613.5 321.9,611.3 321.9,609.0 321.9,608.0 321.9,608.5 322.0,605.5 322.0,604.4 322.1,607.1 322.1,601.6 322.2,602.6 322.2,603.2 322.3,598.1 322.3,597.0 322.4,598.5 322.4,593.5 322.5,592.2 322.5,595.6 322.6,592.3 322.6,593.0 322.6,592.2 322.6,591.7 322.6,591.6 322.7,589.1 322.7,587.2 322.7,586.9 323.1,585.9 323.4,585.6 323.8,580.5 324.1,586.7 324.5,582.0 324.9,584.1 325.2,582.1 325.6,578.4 326.0,578.0 326.6,574.6 327.1,575.8 327.3,577.1 327.6,577.7 327.8,577.6 328.0,580.0 328.6,583.1 329.2,577.4 329.8,582.8 330.4,581.3 331.0,585.0 331.0,586.7 331.1,588.1 331.1,588.2 331.1,592.0 331.1,591.0 331.1,589.2 331.2,589.9 331.2,593.0 331.2,591.0 331.2,595.7 331.3,592.6 331.3,596.5 331.3,598.1 331.3,602.3 331.3,600.1 331.4,602.5 331.4,601.0 331.4,606.7 331.4,603.7 331.4,600.8 331.5,609.9 331.5,606.5 331.5,608.0 331.6,609.8 331.7,611.0 331.8,610.4 331.9,610.0 332.0,611.9 332.1,614.7 332.2,614.8 332.3,616.0 332.4,616.2 332.4,619.6 332.5,616.2 332.5,621.1 332.6,618.8 332.7,617.1 332.7,624.5 332.8,623.8 332.8,626.1 332.9,625.0 333.0,628.6 333.0,627.9 333.1,629.7 333.1,629.6 333.2,628.5 333.3,632.4 333.3,634.5 333.4,633.1 333.4,638.0 333.5,636.9 333.9,638.8 334.2,639.0 334.3,640.8 334.3,640.1 334.4,643.1 334.5,641.7 334.5,644.4 334.6,645.3 334.7,645.5 334.8,647.5 334.8,650.8 334.9,648.8 335.0,649.7 335.0,650.5 335.1,653.4 335.2,651.8 335.2,656.4 335.3,653.6 335.4,656.5 335.5,657.2 335.5,658.9 335.6,658.2 335.7,660.9 335.7,659.5 335.8,662.0 335.9,661.4 336.1,663.0 336.2,663.7 336.4,666.5 336.5,666.4 336.7,668.6 336.8,669.8 337.0,669.3 337.1,669.6 337.3,670.5 337.4,673.1 337.6,673.0 337.7,677.6 337.9,675.7 338.0,676.3 338.2,678.2 338.3,679.4 338.5,681.1 338.6,681.2 338.8,682.4 338.9,681.6 339.1,683.9 339.2,685.0 339.4,686.8 339.7,687.7 339.9,687.6 340.1,688.3 340.4,690.1 340.6,690.2 340.8,694.0 341.1,693.1 341.3,692.5 341.5,694.8 341.8,695.6 342.0,697.9 342.2,697.9 342.5,699.1 342.7,700.0 342.9,700.5 343.2,702.2 343.4,703.3 343.7,703.8 343.9,705.7 344.2,705.3 344.4,706.9 344.7,708.0 344.9,709.0 345.2,710.1 345.4,710.5 345.7,711.9 345.9,713.0 346.2,714.0"/></defs>
<use href="#l66" fill="#acacac"/>
<use href="#d66" fill="#5f5f5f" stroke="#333" stroke-width="0.7"/>
<use href="#l66" fill="none" stroke="#202020" stroke-width="0.95"/>
<line x1="307.1" y1="575.7" x2="307.1" y2="713.9" stroke="#858585" stroke-width="1.5"/>
<line x1="304.1" y1="580.5" x2="307.9" y2="580.5" stroke="#555" stroke-width="0.9"/>
<line x1="306.6" y1="713.9" x2="477.7" y2="713.9" stroke="#1a1a1a" stroke-width="1.3"/>
<line x1="307.1" y1="713.9" x2="307.1" y2="716.5" stroke="#777" stroke-width="0.6"/>
<line x1="321.71" y1="713.9" x2="321.71" y2="716.5" stroke="#777" stroke-width="0.6"/>
<line x1="330.26" y1="713.9" x2="330.26" y2="716.5" stroke="#777" stroke-width="0.6"/>
<line x1="336.32" y1="713.9" x2="336.32" y2="716.5" stroke="#777" stroke-width="0.6"/>
<line x1="341.02" y1="713.9" x2="341.02" y2="716.5" stroke="#777" stroke-width="0.6"/>
<line x1="344.87" y1="713.9" x2="344.87" y2="716.5" stroke="#777" stroke-width="0.6"/>
<line x1="348.12" y1="713.9" x2="348.12" y2="716.5" stroke="#777" stroke-width="0.6"/>
<line x1="350.93" y1="713.9" x2="350.93" y2="716.5" stroke="#777" stroke-width="0.6"/>
<line x1="353.41" y1="713.9" x2="353.41" y2="716.5" stroke="#777" stroke-width="0.6"/>
<line x1="355.63" y1="713.9" x2="355.63" y2="716.5" stroke="#777" stroke-width="0.6"/>
<line x1="370.24" y1="713.9" x2="370.24" y2="716.5" stroke="#777" stroke-width="0.6"/>
<line x1="378.79" y1="713.9" x2="378.79" y2="716.5" stroke="#777" stroke-width="0.6"/>
<line x1="384.85" y1="713.9" x2="384.85" y2="716.5" stroke="#777" stroke-width="0.6"/>
<line x1="389.56" y1="713.9" x2="389.56" y2="716.5" stroke="#777" stroke-width="0.6"/>
<line x1="393.4" y1="713.9" x2="393.4" y2="716.5" stroke="#777" stroke-width="0.6"/>
<line x1="396.65" y1="713.9" x2="396.65" y2="716.5" stroke="#777" stroke-width="0.6"/>
<line x1="399.46" y1="713.9" x2="399.46" y2="716.5" stroke="#777" stroke-width="0.6"/>
<line x1="401.95" y1="713.9" x2="401.95" y2="716.5" stroke="#777" stroke-width="0.6"/>
<line x1="404.17" y1="713.9" x2="404.17" y2="716.5" stroke="#777" stroke-width="0.6"/>
<line x1="418.78" y1="713.9" x2="418.78" y2="716.5" stroke="#777" stroke-width="0.6"/>
<line x1="427.32" y1="713.9" x2="427.32" y2="716.5" stroke="#777" stroke-width="0.6"/>
<line x1="433.39" y1="713.9" x2="433.39" y2="716.5" stroke="#777" stroke-width="0.6"/>
<line x1="438.09" y1="713.9" x2="438.09" y2="716.5" stroke="#777" stroke-width="0.6"/>
<line x1="441.93" y1="713.9" x2="441.93" y2="716.5" stroke="#777" stroke-width="0.6"/>
<line x1="445.18" y1="713.9" x2="445.18" y2="716.5" stroke="#777" stroke-width="0.6"/>
<line x1="448" y1="713.9" x2="448" y2="716.5" stroke="#777" stroke-width="0.6"/>
<line x1="450.48" y1="713.9" x2="450.48" y2="716.5" stroke="#777" stroke-width="0.6"/>
<line x1="452.7" y1="713.9" x2="452.7" y2="716.5" stroke="#777" stroke-width="0.6"/>
<line x1="467.31" y1="713.9" x2="467.31" y2="716.5" stroke="#777" stroke-width="0.6"/>
<line x1="475.86" y1="713.9" x2="475.86" y2="716.5" stroke="#777" stroke-width="0.6"/>
<text x="298.04" y="726.62" font-family='"Liberation Serif", serif' font-weight="bold" font-size="11.2" textLength="11.62" lengthAdjust="spacingAndGlyphs" fill="#111" style="stroke:#111;stroke-width:0.35px">10</text>
<text x="309.78" y="723.2" font-family='"Liberation Serif", serif' font-weight="bold" font-size="6.47" textLength="2.95" lengthAdjust="spacingAndGlyphs" fill="#111" style="stroke:#111;stroke-width:0.2px">0</text>
<text x="347.14" y="726.62" font-family='"Liberation Serif", serif' font-weight="bold" font-size="11.2" textLength="11.62" lengthAdjust="spacingAndGlyphs" fill="#111" style="stroke:#111;stroke-width:0.35px">10</text>
<text x="359.25" y="723.2" font-family='"Liberation Serif", serif' font-weight="bold" font-size="6.51" textLength="2.17" lengthAdjust="spacingAndGlyphs" fill="#111" style="stroke:#111;stroke-width:0.2px">1</text>
<text x="396.74" y="726.62" font-family='"Liberation Serif", serif' font-weight="bold" font-size="11.2" textLength="11.62" lengthAdjust="spacingAndGlyphs" fill="#111" style="stroke:#111;stroke-width:0.35px">10</text>
<text x="408.45" y="723.2" font-family='"Liberation Serif", serif' font-weight="bold" font-size="6.49" textLength="3.01" lengthAdjust="spacingAndGlyphs" fill="#111" style="stroke:#111;stroke-width:0.2px">2</text>
<text x="446.74" y="726.62" font-family='"Liberation Serif", serif' font-weight="bold" font-size="11.2" textLength="11.62" lengthAdjust="spacingAndGlyphs" fill="#111" style="stroke:#111;stroke-width:0.35px">10</text>
<text x="458.48" y="723.2" font-family='"Liberation Serif", serif' font-weight="bold" font-size="6.49" textLength="2.92" lengthAdjust="spacingAndGlyphs" fill="#111" style="stroke:#111;stroke-width:0.2px">3</text>
<text x="283.25" y="583.95" font-family='"Liberation Serif", serif' font-weight="bold" font-size="10.38" textLength="17.96" lengthAdjust="spacingAndGlyphs" fill="#111" style="stroke:#111;stroke-width:0.3px">200</text>
<text x="471.68" y="592.39" font-family='"Liberation Sans", sans-serif' font-weight="bold" font-size="29.59" textLength="16.3" lengthAdjust="spacingAndGlyphs" fill="#111" style="stroke:#111;stroke-width:0.45px">J</text>
<text x="454.64" y="608.65" font-family='"Liberation Serif", serif' font-weight="normal" font-size="12.54" textLength="62.36" lengthAdjust="spacingAndGlyphs" fill="#111" style="stroke:#111;stroke-width:0.3px">ΔMFI 2.9</text>
<text transform="translate(298.5 682.52) rotate(-90)" x="0" y="0" font-family='"Liberation Serif", serif' font-weight="bold" font-size="14.84" textLength="76.94" lengthAdjust="spacingAndGlyphs" fill="#111">cell number</text>
<defs><polygon id="l73" points="308.0,885.9 308.7,884.7 309.3,882.5 310.0,882.8 310.7,881.0 311.3,880.3 312.0,878.0 312.8,877.5 313.6,876.5 314.4,874.5 315.2,872.4 316.0,872.0 316.8,870.1 317.7,869.6 318.5,868.9 319.4,868.5 320.2,864.8 321.1,867.0 321.9,864.0 322.5,863.4 323.1,858.5 323.8,863.9 324.4,860.1 325.0,857.5 325.8,856.8 326.6,851.8 327.4,856.8 328.2,856.3 329.0,851.0 329.9,848.8 330.8,844.0 331.6,851.3 332.5,846.0 333.8,844.5 335.0,843.5 337.5,842.5 338.3,839.1 339.2,838.8 340.0,838.0 341.2,839.2 342.5,836.3 343.3,837.7 344.2,837.9 345.0,840.0 346.9,839.1 348.8,838.5 349.5,842.0 350.2,839.7 351.0,843.0 352.0,841.4 353.0,846.0 353.6,843.5 354.2,846.4 354.8,844.3 355.4,851.2 357.5,852.5 358.7,850.7 359.8,854.0 361.0,856.0 362.0,856.1 363.0,861.5 364.0,858.2 365.0,860.0 365.8,864.3 366.6,862.2 367.4,863.4 368.2,861.2 369.0,866.0 369.7,866.8 370.4,867.0 371.1,869.4 371.8,872.6 372.5,872.5 373.6,871.3 374.7,873.5 375.8,874.1 376.9,875.4 378.0,877.0 379.5,878.7 381.0,878.0 382.5,880.0 383.9,879.0 385.3,879.3 386.7,880.9 388.1,882.6 389.4,882.4 390.8,881.8 392.2,883.0 393.6,882.7 395.0,883.8 396.5,884.8 397.9,883.9 399.4,883.1 400.8,883.5 402.3,883.8 403.8,884.8 405.2,884.7 406.7,884.7 408.1,884.7 409.6,884.7 411.0,884.4 412.5,885.0 414.1,884.9 415.8,885.3 417.4,885.4 419.0,885.9"/><polygon id="d73" points="308.1,885.9 308.3,885.0 308.5,883.6 308.8,882.8 309.0,882.5 309.2,881.3 309.4,880.0 309.6,878.6 309.9,878.3 310.1,877.1 310.3,876.4 310.5,874.0 310.7,873.9 310.9,872.3 311.2,872.1 311.4,871.3 311.6,870.3 311.8,868.6 312.0,867.1 312.3,867.0 312.5,866.0 312.7,865.0 313.0,863.3 313.3,863.2 313.5,861.3 313.8,860.6 314.1,860.3 314.4,858.4 314.6,858.2 314.9,857.0 315.2,856.9 315.5,855.9 315.8,853.6 316.0,852.9 316.3,852.5 316.6,851.2 316.8,850.9 316.9,848.5 317.1,849.0 317.2,849.6 317.4,846.6 317.6,845.5 317.7,845.0 317.9,843.7 318.0,840.3 318.2,841.6 318.4,841.5 318.5,839.7 318.7,838.0 318.9,838.2 319.0,834.5 319.2,833.4 319.3,832.5 319.5,830.9 319.7,832.6 319.8,833.9 320.0,829.7 320.1,828.3 320.3,828.1 320.4,827.7 320.5,829.4 320.6,826.9 320.7,825.6 320.8,822.3 321.0,821.0 321.1,820.4 321.2,816.7 321.3,819.8 321.4,818.5 321.5,816.9 321.6,813.9 321.7,816.3 321.8,814.4 321.9,810.4 322.0,811.8 322.0,809.2 322.1,807.1 322.2,805.9 322.3,807.1 322.4,803.4 322.5,805.0 322.6,801.4 322.6,803.2 322.6,804.0 322.7,801.7 322.8,801.3 322.8,800.1 322.9,796.1 322.9,795.2 322.9,794.8 323.0,792.8 323.1,791.5 323.1,791.1 323.2,793.6 323.2,789.9 323.2,788.1 323.3,788.1 323.4,787.5 323.5,784.7 323.6,785.4 323.7,788.2 323.8,781.1 323.9,782.0 324.0,781.1 324.1,781.0 324.2,778.3 324.3,781.2 324.4,779.2 324.5,776.8 324.6,774.7 324.7,772.3 324.8,774.5 324.9,770.6 325.0,771.1 325.1,770.9 325.2,768.8 325.3,764.3 325.5,768.6 325.6,765.0 325.7,765.7 325.9,760.2 326.0,762.8 326.1,759.6 326.2,759.0 326.4,761.7 326.5,758.0 326.6,756.7 326.8,756.0 326.9,752.3 327.1,753.9 327.2,751.2 327.4,750.8 327.6,751.6 327.7,749.6 327.9,753.8 328.1,750.6 328.4,752.2 328.6,755.7 328.8,755.0 329.0,754.2 329.2,758.4 329.4,757.0 329.6,759.2 329.7,763.2 329.8,765.3 329.9,762.1 330.0,766.1 330.0,763.1 330.1,763.6 330.2,766.0 330.3,771.5 330.4,768.8 330.5,768.7 330.5,767.8 330.6,769.8 330.7,774.1 330.7,774.9 330.8,774.3 330.9,778.5 330.9,776.3 331.0,778.5 331.1,780.3 331.2,778.1 331.3,783.2 331.4,780.1 331.5,786.2 331.6,785.5 331.7,785.2 331.8,785.6 331.9,788.1 331.9,788.6 331.9,789.1 332.0,790.6 332.0,791.3 332.0,792.4 332.1,794.2 332.1,792.3 332.1,796.3 332.1,797.7 332.1,801.1 332.2,800.6 332.2,799.7 332.2,800.0 332.2,803.2 332.3,804.7 332.3,805.0 332.4,803.5 332.5,807.8 332.6,809.0 332.7,808.5 332.8,808.2 333.0,807.7 333.1,813.9 333.2,812.7 333.3,815.3 333.4,815.1 333.5,816.9 333.5,818.6 333.6,817.2 333.6,821.1 333.7,820.2 333.7,822.9 333.8,822.8 333.8,822.6 333.9,824.4 333.9,824.1 334.0,825.7 334.0,828.1 334.1,828.9 334.1,830.2 334.2,833.1 334.2,831.7 334.3,832.3 334.3,834.4 334.4,837.0 334.4,835.6 334.5,837.8 334.5,837.9 334.6,840.0 334.7,839.8 334.9,839.8 335.0,842.7 335.2,844.7 335.3,844.9 335.4,846.1 335.6,847.2 335.7,847.3 335.9,848.2 336.0,849.5 336.2,850.9 336.3,851.7 336.4,853.9 336.6,854.9 336.7,855.2 336.9,856.9 337.0,857.0 337.2,857.8 337.3,858.1 337.5,860.7 337.7,860.7 337.8,861.4 338.0,863.5 338.2,862.1 338.3,864.7 338.5,865.5 338.7,866.3 338.8,868.2 339.0,870.4 339.2,870.6 339.3,871.4 339.5,872.0 339.6,872.7 339.8,873.8 339.9,874.0 340.0,877.4 340.1,877.0 340.2,877.6 340.4,878.6 340.5,880.0 340.8,880.9 341.0,882.3 341.2,882.8 341.5,884.2 341.8,885.0 342.0,885.9"/></defs>
<use href="#l73" fill="#acacac"/>
<use href="#d73" fill="#5f5f5f" stroke="#333" stroke-width="0.7"/>
<use href="#l73" fill="none" stroke="#202020" stroke-width="0.95"/>
<line x1="307.1" y1="749.6" x2="307.1" y2="885.9" stroke="#858585" stroke-width="1.5"/>
<line x1="304.1" y1="759.2" x2="307.9" y2="759.2" stroke="#555" stroke-width="0.9"/>
<line x1="306.6" y1="885.9" x2="478.3" y2="885.9" stroke="#1a1a1a" stroke-width="1.3"/>
<line x1="307.1" y1="885.9" x2="307.1" y2="888.5" stroke="#777" stroke-width="0.6"/>
<line x1="321.77" y1="885.9" x2="321.77" y2="888.5" stroke="#777" stroke-width="0.6"/>
<line x1="330.35" y1="885.9" x2="330.35" y2="888.5" stroke="#777" stroke-width="0.6"/>
<line x1="336.44" y1="885.9" x2="336.44" y2="888.5" stroke="#777" stroke-width="0.6"/>
<line x1="341.16" y1="885.9" x2="341.16" y2="888.5" stroke="#777" stroke-width="0.6"/>
<line x1="345.02" y1="885.9" x2="345.02" y2="888.5" stroke="#777" stroke-width="0.6"/>
<line x1="348.28" y1="885.9" x2="348.28" y2="888.5" stroke="#777" stroke-width="0.6"/>
<line x1="351.11" y1="885.9" x2="351.11" y2="888.5" stroke="#777" stroke-width="0.6"/>
<line x1="353.6" y1="885.9" x2="353.6" y2="888.5" stroke="#777" stroke-width="0.6"/>
<line x1="355.83" y1="885.9" x2="355.83" y2="888.5" stroke="#777" stroke-width="0.6"/>
<line x1="370.5" y1="885.9" x2="370.5" y2="888.5" stroke="#777" stroke-width="0.6"/>
<line x1="379.09" y1="885.9" x2="379.09" y2="888.5" stroke="#777" stroke-width="0.6"/>
<line x1="385.17" y1="885.9" x2="385.17" y2="888.5" stroke="#777" stroke-width="0.6"/>
<line x1="389.9" y1="885.9" x2="389.9" y2="888.5" stroke="#777" stroke-width="0.6"/>
<line x1="393.76" y1="885.9" x2="393.76" y2="888.5" stroke="#777" stroke-width="0.6"/>
<line x1="397.02" y1="885.9" x2="397.02" y2="888.5" stroke="#777" stroke-width="0.6"/>
<line x1="399.84" y1="885.9" x2="399.84" y2="888.5" stroke="#777" stroke-width="0.6"/>
<line x1="402.34" y1="885.9" x2="402.34" y2="888.5" stroke="#777" stroke-width="0.6"/>
<line x1="404.57" y1="885.9" x2="404.57" y2="888.5" stroke="#777" stroke-width="0.6"/>
<line x1="419.24" y1="885.9" x2="419.24" y2="888.5" stroke="#777" stroke-width="0.6"/>
<line x1="427.82" y1="885.9" x2="427.82" y2="888.5" stroke="#777" stroke-width="0.6"/>
<line x1="433.91" y1="885.9" x2="433.91" y2="888.5" stroke="#777" stroke-width="0.6"/>
<line x1="438.63" y1="885.9" x2="438.63" y2="888.5" stroke="#777" stroke-width="0.6"/>
<line x1="442.49" y1="885.9" x2="442.49" y2="888.5" stroke="#777" stroke-width="0.6"/>
<line x1="445.75" y1="885.9" x2="445.75" y2="888.5" stroke="#777" stroke-width="0.6"/>
<line x1="448.58" y1="885.9" x2="448.58" y2="888.5" stroke="#777" stroke-width="0.6"/>
<line x1="451.07" y1="885.9" x2="451.07" y2="888.5" stroke="#777" stroke-width="0.6"/>
<line x1="453.3" y1="885.9" x2="453.3" y2="888.5" stroke="#777" stroke-width="0.6"/>
<line x1="467.97" y1="885.9" x2="467.97" y2="888.5" stroke="#777" stroke-width="0.6"/>
<line x1="476.55" y1="885.9" x2="476.55" y2="888.5" stroke="#777" stroke-width="0.6"/>
<text x="298.44" y="900.12" font-family='"Liberation Serif", serif' font-weight="bold" font-size="11.2" textLength="11.62" lengthAdjust="spacingAndGlyphs" fill="#111" style="stroke:#111;stroke-width:0.35px">10</text>
<text x="310.18" y="896.7" font-family='"Liberation Serif", serif' font-weight="bold" font-size="6.47" textLength="2.95" lengthAdjust="spacingAndGlyphs" fill="#111" style="stroke:#111;stroke-width:0.2px">0</text>
<text x="346.54" y="900.12" font-family='"Liberation Serif", serif' font-weight="bold" font-size="11.2" textLength="11.62" lengthAdjust="spacingAndGlyphs" fill="#111" style="stroke:#111;stroke-width:0.35px">10</text>
<text x="358.65" y="896.7" font-family='"Liberation Serif", serif' font-weight="bold" font-size="6.51" textLength="2.17" lengthAdjust="spacingAndGlyphs" fill="#111" style="stroke:#111;stroke-width:0.2px">1</text>
<text x="397.34" y="900.12" font-family='"Liberation Serif", serif' font-weight="bold" font-size="11.2" textLength="11.62" lengthAdjust="spacingAndGlyphs" fill="#111" style="stroke:#111;stroke-width:0.35px">10</text>
<text x="409.05" y="896.7" font-family='"Liberation Serif", serif' font-weight="bold" font-size="6.49" textLength="3.01" lengthAdjust="spacingAndGlyphs" fill="#111" style="stroke:#111;stroke-width:0.2px">2</text>
<text x="447.34" y="900.12" font-family='"Liberation Serif", serif' font-weight="bold" font-size="11.2" textLength="11.62" lengthAdjust="spacingAndGlyphs" fill="#111" style="stroke:#111;stroke-width:0.35px">10</text>
<text x="459.08" y="896.7" font-family='"Liberation Serif", serif' font-weight="bold" font-size="6.49" textLength="2.92" lengthAdjust="spacingAndGlyphs" fill="#111" style="stroke:#111;stroke-width:0.2px">3</text>
<text x="283.66" y="762.65" font-family='"Liberation Serif", serif' font-weight="bold" font-size="10.38" textLength="17.64" lengthAdjust="spacingAndGlyphs" fill="#111" style="stroke:#111;stroke-width:0.3px">220</text>
<text x="470.64" y="776.48" font-family='"Liberation Sans", sans-serif' font-weight="bold" font-size="29.58" textLength="21.41" lengthAdjust="spacingAndGlyphs" fill="#111" style="stroke:#111;stroke-width:0.45px">K</text>
<text x="453.44" y="792.15" font-family='"Liberation Serif", serif' font-weight="normal" font-size="11.93" textLength="62.73" lengthAdjust="spacingAndGlyphs" fill="#111" style="stroke:#111;stroke-width:0.3px">ΔMFI 2.5</text>
<text transform="translate(298.5 862.52) rotate(-90)" x="0" y="0" font-family='"Liberation Serif", serif' font-weight="bold" font-size="14.84" textLength="76.94" lengthAdjust="spacingAndGlyphs" fill="#111">cell number</text>
<defs><polygon id="l80" points="306.0,1061.3 306.7,1060.0 307.4,1057.8 308.1,1057.8 308.8,1058.2 309.5,1055.4 310.2,1052.2 310.9,1053.0 311.6,1049.4 312.3,1049.2 313.1,1045.4 313.8,1050.7 314.6,1042.0 315.4,1045.8 316.1,1041.6 316.9,1041.1 317.7,1038.0 318.4,1039.8 319.2,1037.7 319.8,1034.7 320.5,1032.9 321.1,1032.5 321.8,1033.2 322.4,1032.1 323.1,1028.9 323.7,1027.2 324.4,1027.7 325.0,1026.2 325.8,1025.0 326.5,1022.6 327.3,1022.0 328.1,1020.8 328.8,1016.6 329.6,1018.4 330.4,1017.9 331.1,1013.4 331.9,1014.6 332.8,1015.3 333.7,1013.0 334.7,1010.6 335.6,1011.2 336.5,1007.7 336.7,1009.0 336.9,1004.6 337.1,1003.3 337.3,1004.9 337.5,1001.3 337.7,998.5 339.1,992.5 340.6,1000.3 342.0,1002.0 343.2,1003.9 344.4,1001.9 345.7,1002.7 346.9,998.5 347.4,997.7 347.9,1000.6 348.3,1002.8 348.8,1004.3 349.3,1002.9 349.8,1006.0 350.3,1008.1 350.8,1009.2 351.2,1002.1 351.7,1013.1 352.2,1012.3 352.7,1014.6 353.5,1021.1 354.4,1012.9 355.2,1021.2 356.0,1021.2 356.8,1020.5 357.7,1025.8 358.5,1023.8 359.3,1023.8 360.1,1024.3 360.9,1031.1 361.8,1028.0 362.6,1029.9 363.4,1033.1 364.2,1033.1 365.0,1033.4 365.8,1037.6 366.5,1034.0 367.3,1040.9 368.1,1040.0 368.9,1038.7 369.6,1042.1 370.4,1047.7 371.2,1044.6 372.3,1047.9 373.5,1048.9 374.6,1048.3 375.8,1047.9 376.9,1050.4 378.1,1050.1 379.2,1049.0 380.4,1051.5 381.8,1052.3 383.2,1051.3 384.5,1049.8 385.9,1053.2 387.3,1053.4 388.7,1054.4 390.1,1054.6 391.4,1054.5 392.8,1056.1 394.2,1056.2 395.7,1055.8 397.1,1057.5 398.6,1056.2 400.1,1057.2 401.6,1057.4 403.0,1058.1 404.5,1058.7 406.0,1058.5 407.5,1059.3 408.9,1058.9 410.4,1059.5 412.0,1061.3"/><polygon id="d80" points="305.0,1061.3 305.2,1060.1 305.3,1058.9 305.5,1058.3 305.7,1057.3 305.8,1056.4 306.0,1055.1 306.2,1053.8 306.3,1053.0 306.5,1052.0 306.7,1051.2 306.9,1050.3 307.1,1048.7 307.3,1047.7 307.5,1047.6 307.7,1045.6 307.9,1045.7 308.1,1045.0 308.3,1042.5 308.5,1042.0 308.7,1040.5 308.9,1039.9 309.1,1039.3 309.4,1036.8 309.6,1036.8 309.8,1034.8 310.0,1035.0 310.2,1035.0 310.4,1034.1 310.5,1031.8 310.7,1031.5 310.9,1029.3 311.1,1027.7 311.2,1027.5 311.4,1026.0 311.5,1025.2 311.7,1023.4 311.8,1022.8 312.0,1023.9 312.1,1021.0 312.3,1017.2 312.4,1017.4 312.6,1017.8 312.7,1018.3 312.9,1018.3 313.0,1015.0 313.1,1014.7 313.3,1012.5 313.4,1012.8 313.6,1010.2 313.8,1010.6 313.9,1007.7 314.1,1005.8 314.2,1008.7 314.4,1007.0 314.5,1005.0 314.6,1004.3 314.7,1003.6 314.9,1005.6 315.0,1001.1 315.1,999.4 315.2,1002.7 315.3,997.5 315.4,997.4 315.6,997.3 315.7,995.9 315.8,991.8 315.9,992.1 316.0,989.2 316.1,988.9 316.2,990.0 316.4,988.5 316.5,988.1 316.6,989.1 316.8,985.5 316.9,985.4 317.0,983.6 317.1,983.4 317.2,979.9 317.4,983.2 317.5,980.0 317.6,975.6 317.8,976.4 317.9,978.6 318.0,975.7 318.1,975.6 318.2,974.2 318.4,970.4 318.5,973.6 318.6,970.7 318.8,970.4 318.9,969.4 319.0,968.0 319.2,964.9 319.3,967.3 319.5,964.1 319.6,965.5 319.8,963.9 320.0,961.9 320.1,960.2 320.3,960.0 320.4,958.7 320.6,955.2 320.7,958.0 320.8,951.5 321.0,956.9 321.1,950.6 321.2,952.5 321.3,952.8 321.4,951.4 321.5,949.4 321.6,950.0 321.7,947.9 321.8,942.7 321.9,940.8 321.9,943.0 322.0,945.4 322.1,941.9 322.2,942.4 322.3,940.0 322.4,940.9 322.4,936.8 322.5,936.8 322.6,934.4 322.6,936.9 322.7,933.3 322.8,937.8 322.9,933.5 322.9,929.0 323.0,930.0 323.1,932.0 323.2,929.5 323.3,923.3 323.4,925.7 323.5,927.3 323.6,923.9 323.7,920.6 323.8,922.0 323.9,921.2 324.0,922.1 324.1,924.3 324.2,925.0 324.4,925.1 324.5,928.0 324.6,929.1 324.8,930.0 324.9,932.5 325.1,929.7 325.2,931.5 325.4,935.8 325.5,935.0 326.0,936.4 326.5,938.9 327.0,938.0 327.6,939.9 328.2,940.6 328.8,941.2 329.2,938.2 329.6,940.7 330.0,944.0 330.4,946.3 330.8,946.5 331.2,947.5 331.3,949.8 331.4,950.3 331.4,946.8 331.5,952.9 331.6,952.9 331.6,955.4 331.7,953.8 331.8,957.2 331.8,954.4 331.9,957.2 331.9,961.6 332.0,960.0 332.1,963.6 332.1,963.7 332.2,962.4 332.2,964.8 332.3,967.1 332.4,965.9 332.4,965.7 332.5,969.4 332.5,969.4 332.6,968.4 332.7,970.0 332.7,973.0 332.8,972.9 332.8,973.3 332.9,975.0 333.0,978.1 333.0,980.3 333.1,979.3 333.1,977.5 333.2,981.8 333.2,979.7 333.3,981.1 333.4,984.6 333.4,982.6 333.5,987.2 333.5,983.4 333.6,988.5 333.6,987.4 333.7,989.4 333.8,990.0 333.8,989.3 333.9,991.6 334.0,995.4 334.1,997.1 334.2,993.4 334.3,997.2 334.4,994.1 334.5,998.8 334.6,997.1 334.7,999.7 334.8,1000.3 334.9,1002.8 335.0,1003.0 335.1,1005.1 335.2,1003.6 335.3,1006.9 335.4,1006.1 335.5,1008.6 335.6,1009.3 335.8,1011.1 335.9,1011.2 336.0,1012.1 336.1,1012.7 336.2,1012.5 336.3,1015.0 336.4,1019.2 336.5,1018.6 336.6,1016.5 336.7,1020.7 336.8,1022.9 336.9,1021.3 337.0,1023.3 337.1,1022.6 337.2,1023.8 337.3,1025.2 337.4,1025.7 337.5,1027.5 337.6,1028.4 337.8,1029.3 337.9,1031.2 338.0,1031.8 338.1,1033.1 338.2,1031.8 338.4,1034.4 338.5,1034.9 338.6,1036.4 338.8,1038.6 338.9,1039.0 339.0,1040.0 339.2,1041.8 339.4,1042.4 339.6,1043.2 339.8,1043.7 339.9,1044.2 340.1,1046.0 340.3,1045.7 340.5,1048.0 340.8,1049.9 341.0,1049.4 341.3,1051.9 341.5,1052.7 341.8,1053.9 342.0,1053.7 342.3,1055.0 342.5,1055.8 342.8,1057.1 343.0,1058.4 343.3,1058.8 343.5,1060.1 343.8,1061.3"/></defs>
<use href="#l80" fill="#acacac"/>
<use href="#d80" fill="#5f5f5f" stroke="#333" stroke-width="0.7"/>
<use href="#l80" fill="none" stroke="#202020" stroke-width="0.95"/>
<line x1="304.7" y1="921.4" x2="304.7" y2="1061.3" stroke="#858585" stroke-width="1.5"/>
<line x1="301.7" y1="928.7" x2="305.5" y2="928.7" stroke="#555" stroke-width="0.9"/>
<line x1="304.2" y1="1061.3" x2="478.8" y2="1061.3" stroke="#1a1a1a" stroke-width="1.3"/>
<line x1="304.7" y1="1061.3" x2="304.7" y2="1063.9" stroke="#777" stroke-width="0.6"/>
<line x1="319.49" y1="1061.3" x2="319.49" y2="1063.9" stroke="#777" stroke-width="0.6"/>
<line x1="328.14" y1="1061.3" x2="328.14" y2="1063.9" stroke="#777" stroke-width="0.6"/>
<line x1="334.28" y1="1061.3" x2="334.28" y2="1063.9" stroke="#777" stroke-width="0.6"/>
<line x1="339.04" y1="1061.3" x2="339.04" y2="1063.9" stroke="#777" stroke-width="0.6"/>
<line x1="342.93" y1="1061.3" x2="342.93" y2="1063.9" stroke="#777" stroke-width="0.6"/>
<line x1="346.22" y1="1061.3" x2="346.22" y2="1063.9" stroke="#777" stroke-width="0.6"/>
<line x1="349.07" y1="1061.3" x2="349.07" y2="1063.9" stroke="#777" stroke-width="0.6"/>
<line x1="351.59" y1="1061.3" x2="351.59" y2="1063.9" stroke="#777" stroke-width="0.6"/>
<line x1="353.83" y1="1061.3" x2="353.83" y2="1063.9" stroke="#777" stroke-width="0.6"/>
<line x1="368.62" y1="1061.3" x2="368.62" y2="1063.9" stroke="#777" stroke-width="0.6"/>
<line x1="377.28" y1="1061.3" x2="377.28" y2="1063.9" stroke="#777" stroke-width="0.6"/>
<line x1="383.41" y1="1061.3" x2="383.41" y2="1063.9" stroke="#777" stroke-width="0.6"/>
<line x1="388.18" y1="1061.3" x2="388.18" y2="1063.9" stroke="#777" stroke-width="0.6"/>
<line x1="392.07" y1="1061.3" x2="392.07" y2="1063.9" stroke="#777" stroke-width="0.6"/>
<line x1="395.36" y1="1061.3" x2="395.36" y2="1063.9" stroke="#777" stroke-width="0.6"/>
<line x1="398.21" y1="1061.3" x2="398.21" y2="1063.9" stroke="#777" stroke-width="0.6"/>
<line x1="400.72" y1="1061.3" x2="400.72" y2="1063.9" stroke="#777" stroke-width="0.6"/>
<line x1="402.97" y1="1061.3" x2="402.97" y2="1063.9" stroke="#777" stroke-width="0.6"/>
<line x1="417.76" y1="1061.3" x2="417.76" y2="1063.9" stroke="#777" stroke-width="0.6"/>
<line x1="426.41" y1="1061.3" x2="426.41" y2="1063.9" stroke="#777" stroke-width="0.6"/>
<line x1="432.55" y1="1061.3" x2="432.55" y2="1063.9" stroke="#777" stroke-width="0.6"/>
<line x1="437.31" y1="1061.3" x2="437.31" y2="1063.9" stroke="#777" stroke-width="0.6"/>
<line x1="441.2" y1="1061.3" x2="441.2" y2="1063.9" stroke="#777" stroke-width="0.6"/>
<line x1="444.49" y1="1061.3" x2="444.49" y2="1063.9" stroke="#777" stroke-width="0.6"/>
<line x1="447.34" y1="1061.3" x2="447.34" y2="1063.9" stroke="#777" stroke-width="0.6"/>
<line x1="449.85" y1="1061.3" x2="449.85" y2="1063.9" stroke="#777" stroke-width="0.6"/>
<line x1="452.1" y1="1061.3" x2="452.1" y2="1063.9" stroke="#777" stroke-width="0.6"/>
<line x1="466.89" y1="1061.3" x2="466.89" y2="1063.9" stroke="#777" stroke-width="0.6"/>
<line x1="475.54" y1="1061.3" x2="475.54" y2="1063.9" stroke="#777" stroke-width="0.6"/>
<text x="297.74" y="1075.42" font-family='"Liberation Serif", serif' font-weight="bold" font-size="11.2" textLength="11.62" lengthAdjust="spacingAndGlyphs" fill="#111" style="stroke:#111;stroke-width:0.35px">10</text>
<text x="309.48" y="1072" font-family='"Liberation Serif", serif' font-weight="bold" font-size="6.47" textLength="2.95" lengthAdjust="spacingAndGlyphs" fill="#111" style="stroke:#111;stroke-width:0.2px">0</text>
<text x="346.54" y="1075.42" font-family='"Liberation Serif", serif' font-weight="bold" font-size="11.2" textLength="11.62" lengthAdjust="spacingAndGlyphs" fill="#111" style="stroke:#111;stroke-width:0.35px">10</text>
<text x="358.65" y="1072" font-family='"Liberation Serif", serif' font-weight="bold" font-size="6.51" textLength="2.17" lengthAdjust="spacingAndGlyphs" fill="#111" style="stroke:#111;stroke-width:0.2px">1</text>
<text x="396.14" y="1075.42" font-family='"Liberation Serif", serif' font-weight="bold" font-size="11.2" textLength="11.62" lengthAdjust="spacingAndGlyphs" fill="#111" style="stroke:#111;stroke-width:0.35px">10</text>
<text x="407.85" y="1072" font-family='"Liberation Serif", serif' font-weight="bold" font-size="6.49" textLength="3.01" lengthAdjust="spacingAndGlyphs" fill="#111" style="stroke:#111;stroke-width:0.2px">2</text>
<text x="446.14" y="1075.42" font-family='"Liberation Serif", serif' font-weight="bold" font-size="11.2" textLength="11.62" lengthAdjust="spacingAndGlyphs" fill="#111" style="stroke:#111;stroke-width:0.35px">10</text>
<text x="457.88" y="1072" font-family='"Liberation Serif", serif' font-weight="bold" font-size="6.49" textLength="2.92" lengthAdjust="spacingAndGlyphs" fill="#111" style="stroke:#111;stroke-width:0.2px">3</text>
<text x="282.86" y="932.15" font-family='"Liberation Serif", serif' font-weight="bold" font-size="10.38" textLength="17.54" lengthAdjust="spacingAndGlyphs" fill="#111" style="stroke:#111;stroke-width:0.3px">200</text>
<text x="473.55" y="943.17" font-family='"Liberation Sans", sans-serif' font-weight="bold" font-size="30.31" textLength="18.03" lengthAdjust="spacingAndGlyphs" fill="#111" style="stroke:#111;stroke-width:0.45px">L</text>
<text x="453.74" y="961.35" font-family='"Liberation Serif", serif' font-weight="normal" font-size="12.54" textLength="62.46" lengthAdjust="spacingAndGlyphs" fill="#111" style="stroke:#111;stroke-width:0.3px">ΔMFI 2.9</text>
<text transform="translate(298.6 1040.62) rotate(-90)" x="0" y="0" font-family='"Liberation Serif", serif' font-weight="bold" font-size="15.13" textLength="76.94" lengthAdjust="spacingAndGlyphs" fill="#111">cell number</text>
</svg>
</body></html>
